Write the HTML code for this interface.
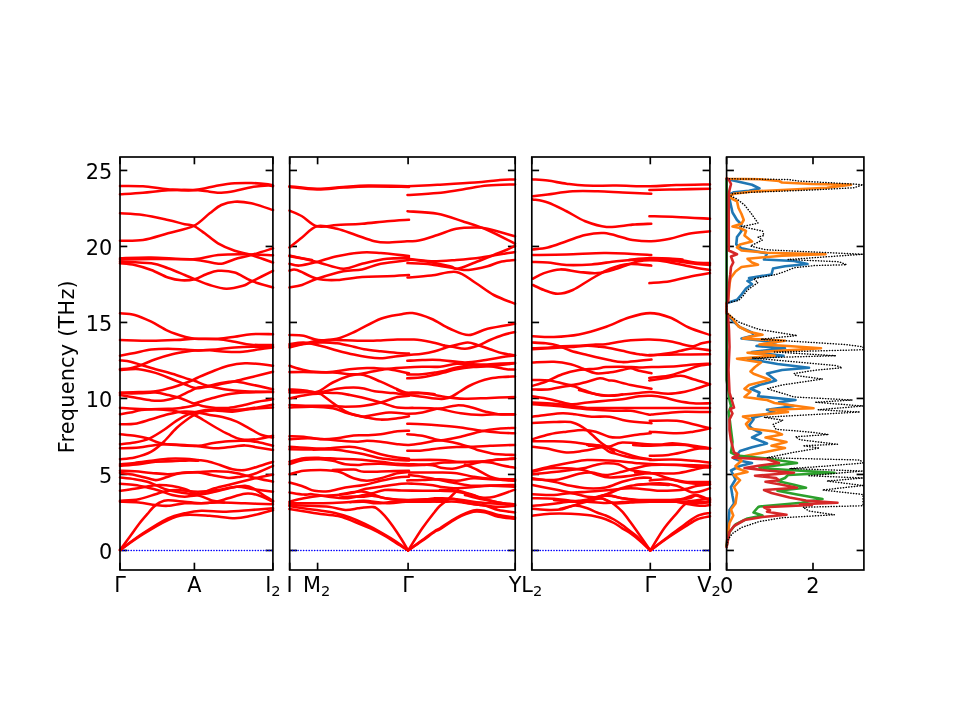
<!DOCTYPE html>
<html><head><meta charset="utf-8"><title>Phonon band structure</title>
<style>html,body{margin:0;padding:0;background:#fff;}svg{display:block;will-change:transform;}</style>
</head><body>
<svg width="960" height="720" viewBox="0 0 960 720">
<rect width="960" height="720" fill="#fff"/>
<g stroke-linecap="butt"><line x1="120.0" y1="550.45" x2="127.3" y2="550.45" stroke="#000" stroke-width="1.67"/><line x1="265.59999999999997" y1="550.45" x2="272.9" y2="550.45" stroke="#000" stroke-width="1.67"/><line x1="120.0" y1="474.45" x2="127.3" y2="474.45" stroke="#000" stroke-width="1.67"/><line x1="265.59999999999997" y1="474.45" x2="272.9" y2="474.45" stroke="#000" stroke-width="1.67"/><line x1="120.0" y1="398.45" x2="127.3" y2="398.45" stroke="#000" stroke-width="1.67"/><line x1="265.59999999999997" y1="398.45" x2="272.9" y2="398.45" stroke="#000" stroke-width="1.67"/><line x1="120.0" y1="322.45" x2="127.3" y2="322.45" stroke="#000" stroke-width="1.67"/><line x1="265.59999999999997" y1="322.45" x2="272.9" y2="322.45" stroke="#000" stroke-width="1.67"/><line x1="120.0" y1="246.45" x2="127.3" y2="246.45" stroke="#000" stroke-width="1.67"/><line x1="265.59999999999997" y1="246.45" x2="272.9" y2="246.45" stroke="#000" stroke-width="1.67"/><line x1="120.0" y1="170.45" x2="127.3" y2="170.45" stroke="#000" stroke-width="1.67"/><line x1="265.59999999999997" y1="170.45" x2="272.9" y2="170.45" stroke="#000" stroke-width="1.67"/><line x1="289.7" y1="550.45" x2="297.0" y2="550.45" stroke="#000" stroke-width="1.67"/><line x1="507.90000000000003" y1="550.45" x2="515.2" y2="550.45" stroke="#000" stroke-width="1.67"/><line x1="289.7" y1="474.45" x2="297.0" y2="474.45" stroke="#000" stroke-width="1.67"/><line x1="507.90000000000003" y1="474.45" x2="515.2" y2="474.45" stroke="#000" stroke-width="1.67"/><line x1="289.7" y1="398.45" x2="297.0" y2="398.45" stroke="#000" stroke-width="1.67"/><line x1="507.90000000000003" y1="398.45" x2="515.2" y2="398.45" stroke="#000" stroke-width="1.67"/><line x1="289.7" y1="322.45" x2="297.0" y2="322.45" stroke="#000" stroke-width="1.67"/><line x1="507.90000000000003" y1="322.45" x2="515.2" y2="322.45" stroke="#000" stroke-width="1.67"/><line x1="289.7" y1="246.45" x2="297.0" y2="246.45" stroke="#000" stroke-width="1.67"/><line x1="507.90000000000003" y1="246.45" x2="515.2" y2="246.45" stroke="#000" stroke-width="1.67"/><line x1="289.7" y1="170.45" x2="297.0" y2="170.45" stroke="#000" stroke-width="1.67"/><line x1="507.90000000000003" y1="170.45" x2="515.2" y2="170.45" stroke="#000" stroke-width="1.67"/><line x1="531.8" y1="550.45" x2="539.0999999999999" y2="550.45" stroke="#000" stroke-width="1.67"/><line x1="702.6" y1="550.45" x2="709.9" y2="550.45" stroke="#000" stroke-width="1.67"/><line x1="531.8" y1="474.45" x2="539.0999999999999" y2="474.45" stroke="#000" stroke-width="1.67"/><line x1="702.6" y1="474.45" x2="709.9" y2="474.45" stroke="#000" stroke-width="1.67"/><line x1="531.8" y1="398.45" x2="539.0999999999999" y2="398.45" stroke="#000" stroke-width="1.67"/><line x1="702.6" y1="398.45" x2="709.9" y2="398.45" stroke="#000" stroke-width="1.67"/><line x1="531.8" y1="322.45" x2="539.0999999999999" y2="322.45" stroke="#000" stroke-width="1.67"/><line x1="702.6" y1="322.45" x2="709.9" y2="322.45" stroke="#000" stroke-width="1.67"/><line x1="531.8" y1="246.45" x2="539.0999999999999" y2="246.45" stroke="#000" stroke-width="1.67"/><line x1="702.6" y1="246.45" x2="709.9" y2="246.45" stroke="#000" stroke-width="1.67"/><line x1="531.8" y1="170.45" x2="539.0999999999999" y2="170.45" stroke="#000" stroke-width="1.67"/><line x1="702.6" y1="170.45" x2="709.9" y2="170.45" stroke="#000" stroke-width="1.67"/><line x1="726.6" y1="550.45" x2="733.9" y2="550.45" stroke="#000" stroke-width="1.67"/><line x1="856.6" y1="550.45" x2="863.9" y2="550.45" stroke="#000" stroke-width="1.67"/><line x1="726.6" y1="474.45" x2="733.9" y2="474.45" stroke="#000" stroke-width="1.67"/><line x1="856.6" y1="474.45" x2="863.9" y2="474.45" stroke="#000" stroke-width="1.67"/><line x1="726.6" y1="398.45" x2="733.9" y2="398.45" stroke="#000" stroke-width="1.67"/><line x1="856.6" y1="398.45" x2="863.9" y2="398.45" stroke="#000" stroke-width="1.67"/><line x1="726.6" y1="322.45" x2="733.9" y2="322.45" stroke="#000" stroke-width="1.67"/><line x1="856.6" y1="322.45" x2="863.9" y2="322.45" stroke="#000" stroke-width="1.67"/><line x1="726.6" y1="246.45" x2="733.9" y2="246.45" stroke="#000" stroke-width="1.67"/><line x1="856.6" y1="246.45" x2="863.9" y2="246.45" stroke="#000" stroke-width="1.67"/><line x1="726.6" y1="170.45" x2="733.9" y2="170.45" stroke="#000" stroke-width="1.67"/><line x1="856.6" y1="170.45" x2="863.9" y2="170.45" stroke="#000" stroke-width="1.67"/><line x1="120.00" y1="570.0" x2="120.00" y2="562.7" stroke="#000" stroke-width="1.67"/><line x1="120.00" y1="157.0" x2="120.00" y2="164.3" stroke="#000" stroke-width="1.67"/><line x1="194.40" y1="570.0" x2="194.40" y2="562.7" stroke="#000" stroke-width="1.67"/><line x1="194.40" y1="157.0" x2="194.40" y2="164.3" stroke="#000" stroke-width="1.67"/><line x1="272.90" y1="570.0" x2="272.90" y2="562.7" stroke="#000" stroke-width="1.67"/><line x1="272.90" y1="157.0" x2="272.90" y2="164.3" stroke="#000" stroke-width="1.67"/><line x1="289.70" y1="570.0" x2="289.70" y2="562.7" stroke="#000" stroke-width="1.67"/><line x1="289.70" y1="157.0" x2="289.70" y2="164.3" stroke="#000" stroke-width="1.67"/><line x1="317.60" y1="570.0" x2="317.60" y2="562.7" stroke="#000" stroke-width="1.67"/><line x1="317.60" y1="157.0" x2="317.60" y2="164.3" stroke="#000" stroke-width="1.67"/><line x1="408.10" y1="570.0" x2="408.10" y2="562.7" stroke="#000" stroke-width="1.67"/><line x1="408.10" y1="157.0" x2="408.10" y2="164.3" stroke="#000" stroke-width="1.67"/><line x1="515.20" y1="570.0" x2="515.20" y2="562.7" stroke="#000" stroke-width="1.67"/><line x1="515.20" y1="157.0" x2="515.20" y2="164.3" stroke="#000" stroke-width="1.67"/><line x1="531.80" y1="570.0" x2="531.80" y2="562.7" stroke="#000" stroke-width="1.67"/><line x1="531.80" y1="157.0" x2="531.80" y2="164.3" stroke="#000" stroke-width="1.67"/><line x1="650.30" y1="570.0" x2="650.30" y2="562.7" stroke="#000" stroke-width="1.67"/><line x1="650.30" y1="157.0" x2="650.30" y2="164.3" stroke="#000" stroke-width="1.67"/><line x1="709.90" y1="570.0" x2="709.90" y2="562.7" stroke="#000" stroke-width="1.67"/><line x1="709.90" y1="157.0" x2="709.90" y2="164.3" stroke="#000" stroke-width="1.67"/><line x1="726.60" y1="570.0" x2="726.60" y2="562.7" stroke="#000" stroke-width="1.67"/><line x1="726.60" y1="157.0" x2="726.60" y2="164.3" stroke="#000" stroke-width="1.67"/><line x1="813.00" y1="570.0" x2="813.00" y2="562.7" stroke="#000" stroke-width="1.67"/><line x1="813.00" y1="157.0" x2="813.00" y2="164.3" stroke="#000" stroke-width="1.67"/></g>
<g fill="none" stroke-linecap="square"><line x1="120.0" y1="550.45" x2="272.9" y2="550.45" stroke="#0000ff" stroke-width="1.4" stroke-dasharray="0.3 2.46" stroke-linecap="round"/><line x1="289.7" y1="550.45" x2="515.2" y2="550.45" stroke="#0000ff" stroke-width="1.4" stroke-dasharray="0.3 2.46" stroke-linecap="round"/><line x1="531.8" y1="550.45" x2="709.9" y2="550.45" stroke="#0000ff" stroke-width="1.4" stroke-dasharray="0.3 2.46" stroke-linecap="round"/></g>
<g fill="none" stroke-linecap="round" stroke-linejoin="round"><path d="M120.00,186.00C123.83,186.05 135.00,185.77 143.00,186.30C151.00,186.83 159.67,188.53 168.00,189.20C176.33,189.87 184.67,190.92 193.00,190.30C201.33,189.68 211.05,186.67 218.00,185.50C224.95,184.33 229.15,183.72 234.70,183.30C240.25,182.88 245.75,182.83 251.30,183.00C256.85,183.17 264.38,183.88 268.00,184.30C271.62,184.72 272.17,185.30 273.00,185.50" stroke="#ff0000" stroke-width="2.55"/><path d="M120.00,194.30C123.83,194.03 135.00,193.37 143.00,192.70C151.00,192.03 159.67,190.75 168.00,190.30C176.33,189.85 186.05,189.77 193.00,190.00C199.95,190.23 204.98,191.25 209.70,191.70C214.42,192.15 217.13,192.82 221.30,192.70C225.47,192.58 229.70,191.92 234.70,191.00C239.70,190.08 245.75,188.12 251.30,187.20C256.85,186.28 264.38,185.65 268.00,185.50C271.62,185.35 272.17,186.17 273.00,186.30" stroke="#ff0000" stroke-width="2.55"/><path d="M120.00,213.30C123.83,213.58 135.00,213.88 143.00,215.00C151.00,216.12 161.05,218.47 168.00,220.00C174.95,221.53 180.40,223.23 184.70,224.20C189.00,225.17 190.47,224.28 193.80,225.80C197.13,227.32 200.67,230.38 204.70,233.30C208.73,236.22 213.00,240.38 218.00,243.30C223.00,246.22 229.15,248.85 234.70,250.80C240.25,252.75 244.92,253.05 251.30,255.00C257.68,256.95 269.38,261.25 273.00,262.50" stroke="#ff0000" stroke-width="2.55"/><path d="M120.00,240.80C123.83,240.67 135.00,241.25 143.00,240.00C151.00,238.75 159.53,235.67 168.00,233.30C176.47,230.93 186.85,229.13 193.80,225.80C200.75,222.47 205.12,216.77 209.70,213.30C214.28,209.83 217.13,206.93 221.30,205.00C225.47,203.07 229.70,201.98 234.70,201.70C239.70,201.42 244.92,201.92 251.30,203.30C257.68,204.68 269.38,208.88 273.00,210.00" stroke="#ff0000" stroke-width="2.55"/><path d="M120.00,258.30C125.17,258.17 138.83,257.35 151.00,257.50C163.17,257.65 181.83,259.62 193.00,259.20C204.17,258.78 209.67,255.83 218.00,255.00C226.33,254.17 233.83,254.15 243.00,254.20C252.17,254.25 268.00,255.12 273.00,255.30" stroke="#ff0000" stroke-width="2.55"/><path d="M120.00,259.70C125.17,259.58 138.83,259.03 151.00,259.00C163.17,258.97 182.38,258.78 193.00,259.50C203.62,260.22 209.70,262.63 214.70,263.30C219.70,263.97 219.67,264.18 223.00,263.50C226.33,262.82 229.98,260.62 234.70,259.20C239.42,257.78 244.92,256.82 251.30,255.00C257.68,253.18 269.38,249.42 273.00,248.30" stroke="#ff0000" stroke-width="2.55"/><path d="M120.00,263.30C122.45,263.58 129.48,263.88 134.70,265.00C139.92,266.12 145.75,267.92 151.30,270.00C156.85,272.08 163.00,275.78 168.00,277.50C173.00,279.22 176.85,280.02 181.30,280.30C185.75,280.58 190.53,280.22 194.70,279.20C198.87,278.18 202.42,275.60 206.30,274.20C210.18,272.80 213.27,271.08 218.00,270.80C222.73,270.52 229.15,270.83 234.70,272.50C240.25,274.17 244.92,278.30 251.30,280.80C257.68,283.30 269.38,286.38 273.00,287.50" stroke="#ff0000" stroke-width="2.55"/><path d="M120.00,261.70C125.22,261.97 143.30,262.20 151.30,263.30C159.30,264.40 162.43,266.35 168.00,268.30C173.57,270.25 180.25,273.18 184.70,275.00C189.15,276.82 190.53,277.53 194.70,279.20C198.87,280.87 204.43,283.42 209.70,285.00C214.97,286.58 220.75,288.57 226.30,288.70C231.85,288.83 238.83,286.97 243.00,285.80C247.17,284.63 246.30,284.20 251.30,281.70C256.30,279.20 269.38,272.62 273.00,270.80" stroke="#ff0000" stroke-width="2.55"/><path d="M120.00,313.30C122.45,313.58 129.48,313.60 134.70,315.00C139.92,316.40 145.75,319.07 151.30,321.70C156.85,324.33 162.43,328.30 168.00,330.80C173.57,333.30 180.25,335.38 184.70,336.70C189.15,338.02 189.15,338.28 194.70,338.70C200.25,339.12 211.33,338.70 218.00,339.20C224.67,339.70 229.15,340.78 234.70,341.70C240.25,342.62 244.92,344.15 251.30,344.70C257.68,345.25 269.38,344.95 273.00,345.00" stroke="#ff0000" stroke-width="2.55"/><path d="M120.00,340.00C125.22,340.13 141.92,340.80 151.30,340.80C160.68,340.80 169.07,340.35 176.30,340.00C183.53,339.65 187.75,338.92 194.70,338.70C201.65,338.48 211.33,339.03 218.00,338.70C224.67,338.37 229.15,337.45 234.70,336.70C240.25,335.95 244.92,334.62 251.30,334.20C257.68,333.78 269.38,334.20 273.00,334.20" stroke="#ff0000" stroke-width="2.55"/><path d="M120.00,355.80C122.45,355.32 129.48,353.93 134.70,352.90C139.92,351.87 145.75,350.29 151.30,349.60C156.85,348.91 162.43,348.75 168.00,348.75C173.57,348.75 179.70,349.33 184.70,349.60C189.70,349.88 193.83,350.28 198.00,350.40C202.17,350.52 204.98,350.08 209.70,350.30C214.42,350.52 220.75,351.47 226.30,351.70C231.85,351.93 237.43,352.12 243.00,351.70C248.57,351.28 254.70,349.90 259.70,349.20C264.70,348.50 270.78,347.78 273.00,347.50" stroke="#ff0000" stroke-width="2.55"/><path d="M120.00,360.40C121.75,360.62 126.95,360.93 130.50,361.70C134.05,362.47 137.13,363.75 141.30,365.00C145.47,366.25 150.35,367.74 155.50,369.20C160.65,370.66 166.65,372.08 172.20,373.75C177.75,375.42 185.00,377.99 188.80,379.20C192.60,380.41 191.88,379.90 195.00,381.00C198.12,382.10 202.63,384.43 207.50,385.80C212.37,387.17 217.95,388.29 224.20,389.20C230.45,390.11 236.87,390.77 245.00,391.25C253.13,391.73 268.33,391.96 273.00,392.10" stroke="#ff0000" stroke-width="2.55"/><path d="M120.00,369.20C121.75,369.05 126.95,369.00 130.50,368.30C134.05,367.60 137.13,366.52 141.30,365.00C145.47,363.48 150.35,361.00 155.50,359.20C160.65,357.40 166.65,355.52 172.20,354.20C177.75,352.88 184.50,351.88 188.80,351.25C193.10,350.62 193.13,350.74 198.00,350.40C202.87,350.06 211.88,349.68 218.00,349.20C224.12,348.72 229.15,347.92 234.70,347.50C240.25,347.08 244.92,346.83 251.30,346.70C257.68,346.57 269.38,346.70 273.00,346.70" stroke="#ff0000" stroke-width="2.55"/><path d="M120.00,370.00C123.13,369.87 132.88,368.72 138.80,369.20C144.72,369.68 149.93,371.23 155.50,372.90C161.07,374.57 167.33,377.32 172.20,379.20C177.07,381.08 181.23,382.82 184.70,384.20C188.17,385.58 190.78,386.82 193.00,387.50C195.22,388.18 195.58,388.51 198.00,388.30C200.42,388.09 203.83,387.08 207.50,386.25C211.17,385.42 215.42,384.09 220.00,383.30C224.58,382.51 229.45,381.22 235.00,381.50C240.55,381.78 246.97,383.72 253.30,385.00C259.63,386.28 269.72,388.50 273.00,389.20" stroke="#ff0000" stroke-width="2.55"/><path d="M120.00,392.50C123.13,392.43 132.88,392.31 138.80,392.10C144.72,391.89 149.93,392.02 155.50,391.25C161.07,390.48 167.33,388.82 172.20,387.50C177.07,386.18 181.23,384.55 184.70,383.30C188.17,382.05 190.78,380.97 193.00,380.00C195.22,379.03 194.88,378.88 198.00,377.50C201.12,376.12 206.65,373.65 211.70,371.70C216.75,369.75 222.75,367.20 228.30,365.80C233.85,364.40 239.43,363.57 245.00,363.30C250.57,363.03 257.03,363.78 261.70,364.20C266.37,364.62 271.12,365.53 273.00,365.80" stroke="#ff0000" stroke-width="2.55"/><path d="M120.00,393.30C123.13,393.30 132.88,393.43 138.80,393.30C144.72,393.17 150.63,392.22 155.50,392.50C160.37,392.78 163.83,394.03 168.00,395.00C172.17,395.97 176.33,396.92 180.50,398.30C184.67,399.68 190.08,402.25 193.00,403.30C195.92,404.35 196.28,404.11 198.00,404.60C199.72,405.09 200.33,405.70 203.30,406.25C206.27,406.80 211.63,407.62 215.80,407.90C219.97,408.17 224.13,408.25 228.30,407.90C232.47,407.55 235.93,406.83 240.80,405.80C245.67,404.77 252.92,402.67 257.50,401.70C262.08,400.73 265.72,400.45 268.30,400.00C270.88,399.55 272.22,399.17 273.00,399.00" stroke="#ff0000" stroke-width="2.55"/><path d="M120.00,395.00C122.45,395.42 129.48,396.60 134.70,397.50C139.92,398.40 146.45,399.92 151.30,400.40C156.15,400.88 159.63,400.88 163.80,400.40C167.97,399.92 172.13,398.95 176.30,397.50C180.47,396.05 185.18,393.37 188.80,391.70C192.42,390.03 194.88,388.33 198.00,387.50C201.12,386.67 203.83,387.25 207.50,386.70C211.17,386.15 215.42,385.11 220.00,384.20C224.58,383.29 229.45,382.50 235.00,381.25C240.55,380.00 246.97,378.29 253.30,376.70C259.63,375.11 269.72,372.53 273.00,371.70" stroke="#ff0000" stroke-width="2.55"/><path d="M195.00,403.30C197.78,402.47 206.15,399.82 211.70,398.30C217.25,396.78 222.75,395.17 228.30,394.20C233.85,393.23 237.55,392.92 245.00,392.50C252.45,392.08 268.33,391.83 273.00,391.70" stroke="#ff0000" stroke-width="2.55"/><path d="M120.00,407.90C122.45,408.04 129.48,408.53 134.70,408.75C139.92,408.97 145.75,409.20 151.30,409.20C156.85,409.20 163.13,408.97 168.00,408.75C172.87,408.53 176.33,408.39 180.50,407.90C184.67,407.41 190.08,406.35 193.00,405.80C195.92,405.25 197.17,404.80 198.00,404.60" stroke="#ff0000" stroke-width="2.55"/><path d="M120.00,414.20C121.75,413.92 126.95,413.20 130.50,412.50C134.05,411.80 137.13,410.55 141.30,410.00C145.47,409.45 150.35,409.12 155.50,409.20C160.65,409.28 167.70,409.90 172.20,410.50C176.70,411.10 178.83,412.05 182.50,412.80C186.17,413.55 190.73,413.80 194.20,415.00C197.67,416.20 199.70,417.92 203.30,420.00C206.90,422.08 211.63,425.13 215.80,427.50C219.97,429.87 224.13,432.25 228.30,434.20C232.47,436.15 235.93,438.37 240.80,439.20C245.67,440.03 252.13,439.77 257.50,439.20C262.87,438.63 270.42,436.37 273.00,435.80" stroke="#ff0000" stroke-width="2.55"/><path d="M120.00,424.20C122.45,424.12 129.48,424.58 134.70,423.75C139.92,422.92 145.75,420.79 151.30,419.20C156.85,417.61 162.43,415.48 168.00,414.20C173.57,412.92 179.70,411.78 184.70,411.50C189.70,411.22 194.20,411.98 198.00,412.50C201.80,413.02 203.13,413.77 207.50,414.60C211.87,415.43 219.33,416.32 224.20,417.50C229.07,418.68 232.53,419.90 236.70,421.70C240.87,423.50 245.03,426.08 249.20,428.30C253.37,430.52 257.73,433.47 261.70,435.00C265.67,436.53 271.12,437.08 273.00,437.50" stroke="#ff0000" stroke-width="2.55"/><path d="M120.00,434.20C122.45,434.47 130.17,435.12 134.70,435.80C139.23,436.48 143.03,437.12 147.20,438.30C151.37,439.48 154.85,441.78 159.70,442.90C164.55,444.02 169.92,444.52 176.30,445.00C182.68,445.48 192.10,446.08 198.00,445.80C203.90,445.52 206.65,444.06 211.70,443.30C216.75,442.54 222.75,441.67 228.30,441.25C233.85,440.83 240.13,440.66 245.00,440.80C249.87,440.94 252.83,441.27 257.50,442.10C262.17,442.93 270.42,445.18 273.00,445.80" stroke="#ff0000" stroke-width="2.55"/><path d="M120.00,444.20C122.45,443.92 129.75,443.48 134.70,442.50C139.65,441.52 144.85,440.38 149.70,438.30C154.55,436.22 159.37,432.92 163.80,430.00C168.23,427.08 172.13,423.43 176.30,420.80C180.47,418.17 185.18,415.75 188.80,414.20C192.42,412.65 194.18,412.27 198.00,411.50C201.82,410.73 206.65,409.85 211.70,409.60C216.75,409.35 222.75,410.07 228.30,410.00C233.85,409.93 239.43,409.75 245.00,409.20C250.57,408.65 257.03,407.47 261.70,406.70C266.37,405.93 271.12,404.95 273.00,404.60" stroke="#ff0000" stroke-width="2.55"/><path d="M120.00,448.30C123.13,448.17 132.88,448.05 138.80,447.50C144.72,446.95 150.63,445.55 155.50,445.00C160.37,444.45 163.13,444.20 168.00,444.20C172.87,444.20 179.70,444.66 184.70,445.00C189.70,445.34 192.82,445.70 198.00,446.25C203.18,446.80 210.05,448.23 215.80,448.30C221.55,448.38 227.63,447.18 232.50,446.70C237.37,446.22 240.83,445.27 245.00,445.40C249.17,445.53 252.83,446.73 257.50,447.50C262.17,448.27 270.42,449.58 273.00,450.00" stroke="#ff0000" stroke-width="2.55"/><path d="M120.00,459.20C122.45,458.92 129.48,458.75 134.70,457.50C139.92,456.25 146.45,454.33 151.30,451.70C156.15,449.07 159.63,445.60 163.80,441.70C167.97,437.80 172.13,432.20 176.30,428.30C180.47,424.40 185.52,420.68 188.80,418.30C192.08,415.92 193.47,415.13 196.00,414.00C198.53,412.87 200.83,412.08 204.00,411.50C207.17,410.92 210.25,410.47 215.00,410.50C219.75,410.53 226.80,411.92 232.50,411.70C238.20,411.48 242.45,409.90 249.20,409.20C255.95,408.50 269.03,407.78 273.00,407.50" stroke="#ff0000" stroke-width="2.55"/><path d="M120.00,464.20C122.45,463.98 129.48,463.47 134.70,462.90C139.92,462.33 145.75,461.49 151.30,460.80C156.85,460.11 162.43,459.09 168.00,458.75C173.57,458.41 179.70,458.54 184.70,458.75C189.70,458.96 194.20,459.58 198.00,460.00C201.80,460.42 203.83,460.42 207.50,461.25C211.17,462.08 215.83,463.68 220.00,465.00C224.17,466.32 228.33,468.37 232.50,469.20C236.67,470.03 240.83,470.42 245.00,470.00C249.17,469.58 252.83,468.08 257.50,466.70C262.17,465.32 270.42,462.53 273.00,461.70" stroke="#ff0000" stroke-width="2.55"/><path d="M120.00,465.80C123.13,465.53 132.88,464.88 138.80,464.20C144.72,463.52 149.93,462.19 155.50,461.70C161.07,461.21 166.65,461.47 172.20,461.25C177.75,461.03 184.50,460.47 188.80,460.40C193.10,460.32 196.47,460.73 198.00,460.80" stroke="#ff0000" stroke-width="2.55"/><path d="M120.00,470.80C122.45,470.88 129.48,470.90 134.70,471.25C139.92,471.60 145.75,472.41 151.30,472.90C156.85,473.39 162.43,474.27 168.00,474.20C173.57,474.13 179.70,472.85 184.70,472.50C189.70,472.15 193.50,472.31 198.00,472.10C202.50,471.89 206.65,471.32 211.70,471.25C216.75,471.18 223.45,471.21 228.30,471.70C233.15,472.19 236.63,473.23 240.80,474.20C244.97,475.17 247.93,476.25 253.30,477.50C258.67,478.75 269.72,481.00 273.00,481.70" stroke="#ff0000" stroke-width="2.55"/><path d="M120.00,472.90C122.45,473.25 129.48,473.95 134.70,475.00C139.92,476.05 147.55,478.37 151.30,479.20C155.05,480.03 154.42,480.42 157.20,480.00C159.98,479.58 164.12,477.82 168.00,476.70C171.88,475.58 175.50,474.00 180.50,473.30C185.50,472.60 192.80,472.22 198.00,472.50C203.20,472.78 206.65,474.10 211.70,475.00C216.75,475.90 223.45,477.62 228.30,477.90C233.15,478.18 236.63,477.32 240.80,476.70C244.97,476.08 247.93,476.02 253.30,474.20C258.67,472.38 269.72,467.20 273.00,465.80" stroke="#ff0000" stroke-width="2.55"/><path d="M120.00,477.50C122.45,477.78 130.17,478.50 134.70,479.20C139.23,479.90 143.73,480.73 147.20,481.70C150.67,482.67 152.03,483.62 155.50,485.00C158.97,486.38 163.83,488.75 168.00,490.00C172.17,491.25 175.50,491.80 180.50,492.50C185.50,493.20 192.80,494.75 198.00,494.20C203.20,493.65 206.65,490.73 211.70,489.20C216.75,487.67 222.75,486.40 228.30,485.00C233.85,483.60 239.43,482.18 245.00,480.80C250.57,479.42 257.03,477.73 261.70,476.70C266.37,475.67 271.12,474.95 273.00,474.60" stroke="#ff0000" stroke-width="2.55"/><path d="M120.00,483.75C122.45,483.96 130.17,484.38 134.70,485.00C139.23,485.62 143.03,486.53 147.20,487.50C151.37,488.47 155.53,489.55 159.70,490.80C163.87,492.05 168.03,494.02 172.20,495.00C176.37,495.98 180.40,496.62 184.70,496.70C189.00,496.78 193.50,494.88 198.00,495.50C202.50,496.12 207.33,499.23 211.70,500.40C216.07,501.57 222.12,502.15 224.20,502.50" stroke="#ff0000" stroke-width="2.55"/><path d="M120.00,490.80C122.45,490.46 129.48,489.58 134.70,488.75C139.92,487.92 147.13,486.43 151.30,485.80C155.47,485.18 156.22,484.97 159.70,485.00C163.18,485.03 168.03,485.33 172.20,486.00C176.37,486.67 180.40,487.63 184.70,489.00C189.00,490.37 193.50,493.62 198.00,494.20C202.50,494.78 205.95,493.62 211.70,492.50C217.45,491.38 226.95,488.62 232.50,487.50C238.05,486.38 241.53,485.67 245.00,485.80C248.47,485.93 249.83,486.48 253.30,488.30C256.77,490.12 262.52,494.62 265.80,496.70C269.08,498.78 271.80,500.12 273.00,500.80" stroke="#ff0000" stroke-width="2.55"/><path d="M120.00,500.80C123.13,500.53 132.88,500.30 138.80,499.20C144.72,498.10 151.33,495.45 155.50,494.20C159.67,492.95 160.33,492.40 163.80,491.70C167.27,491.00 170.60,490.00 176.30,490.00C182.00,490.00 191.05,491.70 198.00,491.70C204.95,491.70 211.55,490.83 218.00,490.00C224.45,489.17 230.82,486.83 236.70,486.70C242.58,486.57 247.25,488.37 253.30,489.20C259.35,490.03 269.72,491.28 273.00,491.70" stroke="#ff0000" stroke-width="2.55"/><path d="M120.00,501.70C123.13,501.83 132.88,501.95 138.80,502.50C144.72,503.05 150.63,504.45 155.50,505.00C160.37,505.55 163.13,506.08 168.00,505.80C172.87,505.52 179.70,503.72 184.70,503.30C189.70,502.88 192.12,503.43 198.00,503.30C203.88,503.17 212.17,502.50 220.00,502.50C227.83,502.50 236.17,503.02 245.00,503.30C253.83,503.58 268.33,504.05 273.00,504.20" stroke="#ff0000" stroke-width="2.55"/><path d="M120.00,550.00C121.75,547.63 127.37,540.10 130.50,535.80C133.63,531.50 136.02,527.80 138.80,524.20C141.58,520.60 144.83,516.98 147.20,514.20C149.57,511.42 150.92,509.45 153.00,507.50C155.08,505.55 157.20,503.70 159.70,502.50C162.20,501.30 163.83,500.43 168.00,500.30C172.17,500.17 179.15,501.20 184.70,501.70C190.25,502.20 196.12,503.30 201.30,503.30C206.48,503.30 211.30,502.53 215.80,501.70C220.30,500.87 223.43,499.62 228.30,498.30C233.17,496.98 240.13,494.30 245.00,493.75C249.87,493.20 252.83,493.68 257.50,495.00C262.17,496.32 270.42,500.58 273.00,501.70" stroke="#ff0000" stroke-width="2.55"/><path d="M120.00,550.00C123.83,547.22 135.00,538.58 143.00,533.30C151.00,528.02 161.05,521.63 168.00,518.30C174.95,514.97 179.15,514.55 184.70,513.30C190.25,512.05 194.37,511.07 201.30,510.80C208.23,510.53 217.97,511.83 226.30,511.70C234.63,511.57 243.52,510.57 251.30,510.00C259.08,509.43 269.38,508.58 273.00,508.30" stroke="#ff0000" stroke-width="2.55"/><path d="M120.00,550.00C123.83,547.37 135.00,539.20 143.00,534.20C151.00,529.20 161.05,523.20 168.00,520.00C174.95,516.80 177.75,515.70 184.70,515.00C191.65,514.30 201.37,515.25 209.70,515.80C218.03,516.35 227.77,518.30 234.70,518.30C241.63,518.30 244.92,517.18 251.30,515.80C257.68,514.42 269.38,510.97 273.00,510.00" stroke="#ff0000" stroke-width="2.55"/><path d="M289.50,186.25C294.08,186.67 308.04,188.64 317.00,188.75C325.96,188.86 334.71,187.43 343.25,186.90C351.79,186.38 357.29,185.71 368.25,185.60C379.21,185.49 402.21,186.14 409.00,186.25" stroke="#ff0000" stroke-width="2.55"/><path d="M289.50,186.90C294.08,187.32 308.04,189.28 317.00,189.40C325.96,189.52 334.71,188.07 343.25,187.60C351.79,187.13 357.29,186.72 368.25,186.60C379.21,186.48 402.21,186.85 409.00,186.90" stroke="#ff0000" stroke-width="2.55"/><path d="M407.50,186.25C412.50,186.00 426.25,185.38 437.50,184.75C448.75,184.12 464.58,183.29 475.00,182.50C485.42,181.71 493.33,180.52 500.00,180.00C506.67,179.48 512.50,179.50 515.00,179.40" stroke="#ff0000" stroke-width="2.55"/><path d="M407.50,195.00C412.50,194.68 428.33,194.03 437.50,193.10C446.67,192.17 454.17,190.65 462.50,189.40C470.83,188.15 478.75,186.43 487.50,185.60C496.25,184.77 510.42,184.60 515.00,184.40" stroke="#ff0000" stroke-width="2.55"/><path d="M289.50,210.60C291.58,211.54 297.42,213.64 302.00,216.25C306.58,218.86 311.17,224.79 317.00,226.25C322.83,227.71 329.50,225.42 337.00,225.00C344.50,224.58 353.67,224.38 362.00,223.75C370.33,223.12 379.17,221.91 387.00,221.25C394.83,220.59 405.33,220.04 409.00,219.80" stroke="#ff0000" stroke-width="2.55"/><path d="M289.50,247.50C291.58,245.83 297.42,241.04 302.00,237.50C306.58,233.96 311.17,227.71 317.00,226.25C322.83,224.79 330.54,227.29 337.00,228.75C343.46,230.21 349.50,232.92 355.75,235.00C362.00,237.08 369.29,240.00 374.50,241.25C379.71,242.50 381.58,242.50 387.00,242.50C392.42,242.50 401.71,241.57 407.00,241.25C412.29,240.93 413.67,241.64 418.75,240.60C423.83,239.56 431.25,236.97 437.50,235.00C443.75,233.03 450.00,230.00 456.25,228.75C462.50,227.50 469.79,227.50 475.00,227.50C480.21,227.50 480.83,227.29 487.50,228.75C494.17,230.21 510.42,235.00 515.00,236.25" stroke="#ff0000" stroke-width="2.55"/><path d="M407.50,211.25C412.50,211.67 428.33,212.08 437.50,213.75C446.67,215.42 454.17,218.54 462.50,221.25C470.83,223.96 478.75,226.25 487.50,230.00C496.25,233.75 510.42,241.46 515.00,243.75" stroke="#ff0000" stroke-width="2.55"/><path d="M289.50,256.25C293.25,256.88 308.25,259.38 312.00,260.00" stroke="#ff0000" stroke-width="2.55"/><path d="M289.50,255.60C294.08,256.65 308.04,259.71 317.00,261.90C325.96,264.09 335.75,268.44 343.25,268.75C350.75,269.06 354.71,265.42 362.00,263.75C369.29,262.08 379.17,259.69 387.00,258.75C394.83,257.81 405.33,258.21 409.00,258.10" stroke="#ff0000" stroke-width="2.55"/><path d="M289.50,263.75C291.17,264.06 294.92,265.91 299.50,265.60C304.08,265.29 310.75,263.46 317.00,261.90C323.25,260.34 329.50,257.82 337.00,256.25C344.50,254.68 354.71,253.03 362.00,252.50C369.29,251.97 372.92,252.52 380.75,253.10C388.58,253.68 404.29,255.52 409.00,256.00" stroke="#ff0000" stroke-width="2.55"/><path d="M289.50,270.60C290.75,270.50 292.42,268.64 297.00,270.00C301.58,271.36 310.33,277.08 317.00,278.75C323.67,280.42 329.50,280.31 337.00,280.00C344.50,279.69 353.67,277.52 362.00,276.90C370.33,276.27 379.17,276.57 387.00,276.25C394.83,275.93 405.33,275.21 409.00,275.00" stroke="#ff0000" stroke-width="2.55"/><path d="M289.50,287.50C291.58,287.08 297.42,286.46 302.00,285.00C306.58,283.54 310.12,281.04 317.00,278.75C323.88,276.46 335.75,272.81 343.25,271.25C350.75,269.69 355.75,270.65 362.00,269.40C368.25,268.15 372.92,265.32 380.75,263.75C388.58,262.18 404.29,260.62 409.00,260.00" stroke="#ff0000" stroke-width="2.55"/><path d="M407.50,258.75C411.46,259.17 423.12,261.04 431.25,261.25C439.38,261.46 447.92,260.62 456.25,260.00C464.58,259.38 471.46,258.85 481.25,257.50C491.04,256.15 509.38,252.83 515.00,251.90" stroke="#ff0000" stroke-width="2.55"/><path d="M407.50,259.40C410.42,259.71 417.92,260.11 425.00,261.25C432.08,262.39 444.58,265.00 450.00,266.25C455.42,267.50 453.33,269.38 457.50,268.75C461.67,268.12 468.96,264.79 475.00,262.50C481.04,260.21 488.54,257.08 493.75,255.00C498.96,252.92 502.71,251.50 506.25,250.00C509.79,248.50 513.54,246.67 515.00,246.00" stroke="#ff0000" stroke-width="2.55"/><path d="M407.50,263.10C411.46,263.32 423.12,263.46 431.25,264.40C439.38,265.34 450.00,267.82 456.25,268.75C462.50,269.68 463.54,270.42 468.75,270.00C473.96,269.58 482.29,267.60 487.50,266.25C492.71,264.90 495.42,262.94 500.00,261.90C504.58,260.86 512.50,260.32 515.00,260.00" stroke="#ff0000" stroke-width="2.55"/><path d="M407.50,277.50C411.46,277.18 423.12,276.53 431.25,275.60C439.38,274.67 448.96,270.75 456.25,271.90C463.54,273.05 468.75,278.65 475.00,282.50C481.25,286.35 487.08,291.46 493.75,295.00C500.42,298.54 511.46,302.29 515.00,303.75" stroke="#ff0000" stroke-width="2.55"/><path d="M289.50,335.00C291.87,335.13 298.91,334.97 303.70,335.80C308.49,336.63 312.70,339.51 318.25,340.00C323.80,340.49 330.75,340.21 337.00,338.75C343.25,337.29 348.46,334.58 355.75,331.25C363.04,327.92 373.38,321.56 380.75,318.75C388.12,315.94 394.71,315.34 400.00,314.40C405.29,313.46 407.29,312.38 412.50,313.10C417.71,313.83 425.00,316.14 431.25,318.75C437.50,321.36 443.75,326.04 450.00,328.75C456.25,331.46 462.50,335.00 468.75,335.00C475.00,335.00 479.79,330.62 487.50,328.75C495.21,326.88 510.42,324.58 515.00,323.75" stroke="#ff0000" stroke-width="2.55"/><path d="M289.50,347.50C293.25,346.53 305.47,342.95 312.00,341.70C318.53,340.45 319.53,340.15 328.70,340.00C337.87,339.85 358.33,340.73 367.00,340.80C375.67,340.87 375.65,340.60 380.70,340.40C385.75,340.20 391.75,339.73 397.30,339.60C402.85,339.47 408.43,339.18 414.00,339.60C419.57,340.02 425.70,341.13 430.70,342.10C435.70,343.07 441.78,344.85 444.00,345.40" stroke="#ff0000" stroke-width="2.55"/><path d="M289.50,344.20C291.87,343.92 298.57,342.23 303.70,342.50C308.83,342.77 314.75,344.48 320.30,345.80C325.85,347.12 331.43,348.93 337.00,350.40C342.57,351.87 348.70,353.48 353.70,354.60C358.70,355.72 362.50,356.48 367.00,357.10C371.50,357.72 375.65,358.44 380.70,358.30C385.75,358.16 392.58,356.80 397.30,356.25C402.02,355.70 404.83,355.42 409.00,355.00C413.17,354.58 418.00,354.38 422.30,353.75C426.60,353.12 431.18,352.16 434.80,351.25C438.42,350.34 441.05,349.21 444.00,348.30C446.95,347.39 448.58,346.77 452.50,345.80C456.42,344.83 463.33,342.63 467.50,342.50C471.67,342.37 473.75,343.88 477.50,345.00C481.25,346.12 485.83,347.82 490.00,349.20C494.17,350.58 498.33,352.27 502.50,353.30C506.67,354.33 512.92,355.05 515.00,355.40" stroke="#ff0000" stroke-width="2.55"/><path d="M289.50,345.80C294.63,345.25 312.38,342.92 320.30,342.50C328.22,342.08 331.43,342.60 337.00,343.30C342.57,344.00 349.20,345.72 353.70,346.70C358.20,347.68 359.50,348.44 364.00,349.20C368.50,349.96 375.15,350.63 380.70,351.25C386.25,351.87 392.58,352.52 397.30,352.90C402.02,353.27 407.05,353.40 409.00,353.50" stroke="#ff0000" stroke-width="2.55"/><path d="M407.30,360.80C409.80,360.67 416.85,360.13 422.30,360.00C427.75,359.87 432.88,359.58 440.00,360.00C447.12,360.42 457.37,362.50 465.00,362.50C472.63,362.50 479.55,360.90 485.80,360.00C492.05,359.10 497.63,357.87 502.50,357.10C507.37,356.33 512.92,355.68 515.00,355.40" stroke="#ff0000" stroke-width="2.55"/><path d="M444.00,345.40C445.42,345.62 449.00,346.14 452.50,346.70C456.00,347.26 460.83,348.90 465.00,348.75C469.17,348.60 473.33,347.26 477.50,345.80C481.67,344.34 485.75,341.80 490.00,340.00C494.25,338.20 498.83,336.33 503.00,335.00C507.17,333.67 513.00,332.50 515.00,332.00" stroke="#ff0000" stroke-width="2.55"/><path d="M289.50,365.80C291.87,366.50 299.25,368.95 303.70,370.00C308.15,371.05 311.35,371.82 316.20,372.10C321.05,372.38 327.25,372.18 332.80,371.70C338.35,371.22 343.80,369.82 349.50,369.20C355.20,368.58 362.50,368.15 367.00,368.00C371.50,367.85 372.83,368.10 376.50,368.30C380.17,368.50 383.58,368.37 389.00,369.20C394.42,370.03 405.67,372.62 409.00,373.30" stroke="#ff0000" stroke-width="2.55"/><path d="M289.50,372.10C293.25,372.10 304.78,372.03 312.00,372.10C319.22,372.17 326.55,372.15 332.80,372.50C339.05,372.85 344.30,373.78 349.50,374.20C354.70,374.62 358.80,373.75 364.00,375.00C369.20,376.25 375.15,379.33 380.70,381.70C386.25,384.07 393.13,387.40 397.30,389.20C401.47,391.00 402.22,391.95 405.70,392.50C409.18,393.05 413.35,392.22 418.20,392.50C423.05,392.78 432.03,393.92 434.80,394.20" stroke="#ff0000" stroke-width="2.55"/><path d="M289.50,392.50C292.08,392.47 300.21,392.47 305.00,392.30C309.79,392.13 313.62,393.13 318.25,391.50C322.88,389.87 327.59,385.12 332.80,382.50C338.01,379.88 344.30,377.33 349.50,375.80C354.70,374.27 358.12,374.40 364.00,373.30C369.88,372.20 377.85,370.17 384.80,369.20C391.75,368.23 399.45,367.92 405.70,367.50C411.95,367.08 416.58,366.83 422.30,366.70C428.02,366.57 434.27,367.19 440.00,366.70C445.73,366.21 451.15,364.17 456.70,363.75C462.25,363.33 467.75,363.78 473.30,364.20C478.85,364.62 484.43,365.42 490.00,366.25C495.57,367.08 502.53,368.64 506.70,369.20C510.87,369.76 513.62,369.53 515.00,369.60" stroke="#ff0000" stroke-width="2.55"/><path d="M407.30,374.40C409.80,374.37 417.72,374.52 422.30,374.20C426.88,373.88 431.18,373.03 434.80,372.50C438.42,371.97 440.35,371.83 444.00,371.00C447.65,370.17 451.82,368.50 456.70,367.50C461.58,366.50 467.75,365.55 473.30,365.00C478.85,364.45 483.05,364.55 490.00,364.20C496.95,363.85 510.83,363.12 515.00,362.90" stroke="#ff0000" stroke-width="2.55"/><path d="M407.30,378.30C409.80,378.13 417.72,377.88 422.30,377.30C426.88,376.72 431.18,375.60 434.80,374.80C438.42,374.00 440.35,373.43 444.00,372.50C447.65,371.57 451.82,370.10 456.70,369.20C461.58,368.30 467.75,367.59 473.30,367.10C478.85,366.61 483.05,366.88 490.00,366.25C496.95,365.62 510.83,363.79 515.00,363.30" stroke="#ff0000" stroke-width="2.55"/><path d="M289.50,389.40C292.08,389.58 300.21,389.98 305.00,390.50C309.79,391.02 312.92,392.79 318.25,392.50C323.58,392.21 331.17,389.58 337.00,388.75C342.83,387.92 348.75,387.54 353.25,387.50C357.75,387.46 360.46,387.88 364.00,388.50C367.54,389.12 369.62,390.48 374.50,391.25C379.38,392.02 387.50,392.48 393.25,393.10C399.00,393.73 404.16,394.40 409.00,395.00C413.84,395.60 418.00,396.12 422.30,396.70C426.60,397.28 431.18,398.15 434.80,398.50C438.42,398.85 441.13,399.13 444.00,398.80C446.87,398.47 449.33,397.72 452.00,396.50C454.67,395.28 457.17,393.25 460.00,391.50C462.83,389.75 465.83,387.65 469.00,386.00C472.17,384.35 475.50,382.85 479.00,381.60C482.50,380.35 486.08,379.27 490.00,378.50C493.92,377.73 498.33,377.33 502.50,377.00C506.67,376.67 512.92,376.58 515.00,376.50" stroke="#ff0000" stroke-width="2.55"/><path d="M289.50,390.60C292.08,390.70 300.21,390.88 305.00,391.20C309.79,391.52 312.92,392.18 318.25,392.50C323.58,392.82 331.71,392.68 337.00,393.10C342.29,393.52 345.83,394.27 350.00,395.00C354.17,395.73 356.88,396.25 362.00,397.50C367.12,398.75 374.87,400.83 380.75,402.50C386.63,404.17 391.76,406.60 397.30,407.50C402.84,408.40 408.43,407.77 414.00,407.90C419.57,408.03 426.37,408.20 430.70,408.30C435.03,408.40 435.67,408.98 440.00,408.50C444.33,408.02 451.83,405.70 456.70,405.40C461.57,405.10 464.35,405.65 469.20,406.70C474.05,407.75 480.95,410.45 485.80,411.70C490.65,412.95 493.43,413.78 498.30,414.20C503.17,414.62 512.22,414.20 515.00,414.20" stroke="#ff0000" stroke-width="2.55"/><path d="M289.50,398.30C291.87,397.82 298.83,396.16 303.70,395.40C308.57,394.64 315.23,393.53 318.70,393.75C322.17,393.97 321.45,394.69 324.50,396.70C327.55,398.71 332.83,403.03 337.00,405.80C341.17,408.57 344.50,411.35 349.50,413.30C354.50,415.25 364.08,416.80 367.00,417.50" stroke="#ff0000" stroke-width="2.55"/><path d="M289.50,405.00C293.25,405.13 305.47,405.67 312.00,405.80C318.53,405.93 323.15,405.65 328.70,405.80C334.25,405.95 339.42,406.70 345.30,406.70C351.18,406.70 358.10,406.50 364.00,405.80C369.90,405.10 375.15,403.95 380.70,402.50C386.25,401.05 392.58,398.22 397.30,397.10C402.02,395.98 407.05,396.02 409.00,395.80" stroke="#ff0000" stroke-width="2.55"/><path d="M289.50,407.50C293.25,407.37 304.78,406.57 312.00,406.70C319.22,406.83 327.25,407.33 332.80,408.30C338.35,409.27 341.13,411.25 345.30,412.50C349.47,413.75 354.18,414.97 357.80,415.80C361.42,416.63 363.18,416.87 367.00,417.50C370.82,418.13 375.65,419.47 380.70,419.60C385.75,419.73 392.58,418.86 397.30,418.30C402.02,417.74 407.05,416.59 409.00,416.25" stroke="#ff0000" stroke-width="2.55"/><path d="M397.30,390.00C398.70,390.55 401.53,392.75 405.70,393.30C409.87,393.85 417.45,393.02 422.30,393.30C427.15,393.58 431.18,394.43 434.80,395.00C438.42,395.57 441.05,396.22 444.00,396.70C446.95,397.18 449.00,397.56 452.50,397.90C456.00,398.24 458.75,398.75 465.00,398.75C471.25,398.75 481.67,398.17 490.00,397.90C498.33,397.62 510.83,397.23 515.00,397.10" stroke="#ff0000" stroke-width="2.55"/><path d="M364.00,416.70C368.17,416.00 381.50,412.99 389.00,412.50C396.50,412.01 403.45,413.75 409.00,413.75C414.55,413.75 418.00,413.26 422.30,412.50C426.60,411.74 431.85,409.78 434.80,409.20C437.75,408.62 435.67,408.32 440.00,409.00C444.33,409.68 453.85,412.30 460.80,413.30C467.75,414.30 475.45,414.85 481.70,415.00C487.95,415.15 492.75,414.27 498.30,414.20C503.85,414.13 512.22,414.53 515.00,414.60" stroke="#ff0000" stroke-width="2.55"/><path d="M407.30,423.75C409.80,423.82 416.85,423.93 422.30,424.20C427.75,424.47 433.58,424.85 440.00,425.40C446.42,425.95 453.85,426.60 460.80,427.50C467.75,428.40 475.45,429.97 481.70,430.80C487.95,431.63 492.75,432.08 498.30,432.50C503.85,432.92 512.22,433.17 515.00,433.30" stroke="#ff0000" stroke-width="2.55"/><path d="M289.50,436.25C291.87,436.32 298.57,436.21 303.70,436.70C308.83,437.19 314.75,438.93 320.30,439.20C325.85,439.47 331.43,438.93 337.00,438.30C342.57,437.67 348.70,435.92 353.70,435.40C358.70,434.88 362.50,435.40 367.00,435.20C371.50,435.00 375.65,434.86 380.70,434.20C385.75,433.54 392.58,431.82 397.30,431.25C402.02,430.68 407.05,430.88 409.00,430.80" stroke="#ff0000" stroke-width="2.55"/><path d="M407.30,434.20C409.80,434.47 417.72,434.97 422.30,435.80C426.88,436.63 431.18,438.37 434.80,439.20C438.42,440.03 440.35,440.12 444.00,440.80C447.65,441.48 451.82,442.05 456.70,443.30C461.58,444.55 469.83,447.18 473.30,448.30C476.77,449.42 474.72,449.22 477.50,450.00C480.28,450.78 486.53,452.30 490.00,453.00C493.47,453.70 494.13,453.87 498.30,454.20C502.47,454.53 512.22,454.87 515.00,455.00" stroke="#ff0000" stroke-width="2.55"/><path d="M289.50,439.20C292.55,439.05 301.97,438.30 307.80,438.30C313.63,438.30 318.93,438.78 324.50,439.20C330.07,439.62 335.65,440.38 341.20,440.80C346.75,441.22 353.50,441.70 357.80,441.70C362.10,441.70 363.18,440.80 367.00,440.80C370.82,440.80 375.65,441.13 380.70,441.70C385.75,442.27 392.58,443.65 397.30,444.20C402.02,444.75 404.83,445.15 409.00,445.00C413.17,444.85 418.00,444.00 422.30,443.30C426.60,442.60 431.18,441.35 434.80,440.80C438.42,440.25 439.67,440.68 444.00,440.00C448.33,439.32 454.52,438.16 460.80,436.70C467.08,435.24 475.45,432.57 481.70,431.25C487.95,429.93 492.75,429.31 498.30,428.75C503.85,428.19 512.22,428.04 515.00,427.90" stroke="#ff0000" stroke-width="2.55"/><path d="M289.50,446.70C293.25,446.97 305.47,448.03 312.00,448.30C318.53,448.57 322.45,448.57 328.70,448.30C334.95,448.03 343.62,446.55 349.50,446.70C355.38,446.85 358.80,447.95 364.00,449.20C369.20,450.45 375.15,452.82 380.70,454.20C386.25,455.58 392.58,456.74 397.30,457.50C402.02,458.26 407.05,458.54 409.00,458.75" stroke="#ff0000" stroke-width="2.55"/><path d="M407.30,450.80C409.80,450.73 416.85,450.82 422.30,450.40C427.75,449.98 434.27,448.85 440.00,448.30C445.73,447.75 451.15,447.37 456.70,447.10C462.25,446.83 467.75,446.92 473.30,446.70C478.85,446.48 484.72,446.05 490.00,445.80C495.28,445.55 500.83,445.33 505.00,445.20C509.17,445.07 513.33,445.03 515.00,445.00" stroke="#ff0000" stroke-width="2.55"/><path d="M289.50,449.20C293.25,449.27 304.78,449.53 312.00,449.60C319.22,449.67 326.55,449.25 332.80,449.60C339.05,449.95 344.30,450.93 349.50,451.70C354.70,452.47 358.80,453.10 364.00,454.20C369.20,455.30 375.15,457.33 380.70,458.30C386.25,459.27 392.58,459.65 397.30,460.00C402.02,460.35 407.05,460.33 409.00,460.40" stroke="#ff0000" stroke-width="2.55"/><path d="M409.00,460.00C414.17,460.00 432.05,459.72 440.00,460.00C447.95,460.28 451.83,461.35 456.70,461.70C461.57,462.05 464.35,462.18 469.20,462.10C474.05,462.03 480.95,461.67 485.80,461.25C490.65,460.83 493.43,460.02 498.30,459.60C503.17,459.18 512.22,458.89 515.00,458.75" stroke="#ff0000" stroke-width="2.55"/><path d="M289.50,461.70C291.87,461.13 298.57,458.93 303.70,458.30C308.83,457.67 314.75,457.82 320.30,457.90C325.85,457.97 331.43,458.53 337.00,458.75C342.57,458.97 349.20,458.99 353.70,459.20C358.20,459.41 359.50,459.58 364.00,460.00C368.50,460.42 375.15,461.07 380.70,461.70C386.25,462.32 392.58,463.33 397.30,463.75C402.02,464.17 404.83,464.06 409.00,464.20C413.17,464.34 418.00,464.33 422.30,464.60C426.60,464.87 431.85,465.32 434.80,465.80C437.75,466.28 437.05,467.01 440.00,467.50C442.95,467.99 448.33,469.03 452.50,468.75C456.67,468.47 460.13,466.98 465.00,465.80C469.87,464.62 476.15,462.73 481.70,461.70C487.25,460.67 492.75,460.17 498.30,459.60C503.85,459.03 512.22,458.52 515.00,458.30" stroke="#ff0000" stroke-width="2.55"/><path d="M289.50,464.20C291.87,463.50 298.57,460.83 303.70,460.00C308.83,459.17 315.45,459.07 320.30,459.20C325.15,459.33 328.63,459.97 332.80,460.80C336.97,461.63 341.13,463.50 345.30,464.20C349.47,464.90 354.68,465.00 357.80,465.00C360.92,465.00 360.18,464.41 364.00,464.20C367.82,463.99 375.15,463.62 380.70,463.75C386.25,463.88 392.58,464.73 397.30,465.00C402.02,465.27 404.83,465.40 409.00,465.40C413.17,465.40 418.00,465.27 422.30,465.00C426.60,464.73 431.18,464.17 434.80,463.75C438.42,463.33 438.97,462.77 444.00,462.50C449.03,462.23 459.42,462.23 465.00,462.10C470.58,461.97 473.33,461.63 477.50,461.70C481.67,461.77 485.83,461.88 490.00,462.50C494.17,463.12 498.33,464.50 502.50,465.40C506.67,466.30 512.92,467.48 515.00,467.90" stroke="#ff0000" stroke-width="2.55"/><path d="M289.50,474.20C291.87,473.63 298.57,471.50 303.70,470.80C308.83,470.10 315.45,470.00 320.30,470.00C325.15,470.00 329.32,470.38 332.80,470.80C336.28,471.22 337.72,471.25 341.20,472.50C344.68,473.75 349.40,476.92 353.70,478.30C358.00,479.68 362.50,480.80 367.00,480.80C371.50,480.80 375.65,479.55 380.70,478.30C385.75,477.05 392.58,474.33 397.30,473.30C402.02,472.27 407.05,472.30 409.00,472.10" stroke="#ff0000" stroke-width="2.55"/><path d="M332.80,470.00C336.28,469.93 348.50,469.32 353.70,469.60C358.90,469.88 358.12,471.43 364.00,471.70C369.88,471.97 381.50,471.40 389.00,471.25C396.50,471.10 405.67,470.88 409.00,470.80" stroke="#ff0000" stroke-width="2.55"/><path d="M409.00,472.50C414.17,472.50 432.05,472.37 440.00,472.50C447.95,472.63 451.15,472.60 456.70,473.30C462.25,474.00 467.75,475.79 473.30,476.70C478.85,477.61 483.05,478.33 490.00,478.75C496.95,479.17 510.83,479.12 515.00,479.20" stroke="#ff0000" stroke-width="2.55"/><path d="M465.00,464.60C467.08,465.50 473.33,467.98 477.50,470.00C481.67,472.02 485.83,475.03 490.00,476.70C494.17,478.37 498.33,479.32 502.50,480.00C506.67,480.68 512.92,480.67 515.00,480.80" stroke="#ff0000" stroke-width="2.55"/><path d="M289.50,482.50C291.87,483.20 299.53,485.32 303.70,486.70C307.87,488.08 310.33,490.04 314.50,490.80C318.67,491.56 323.57,491.80 328.70,491.25C333.83,490.70 339.42,488.54 345.30,487.50C351.18,486.46 358.10,486.12 364.00,485.00C369.90,483.88 375.15,482.05 380.70,480.80C386.25,479.55 392.58,478.18 397.30,477.50C402.02,476.82 407.05,476.83 409.00,476.70" stroke="#ff0000" stroke-width="2.55"/><path d="M409.00,475.00C411.22,475.28 418.00,476.00 422.30,476.70C426.60,477.40 431.85,478.65 434.80,479.20C437.75,479.75 436.35,479.32 440.00,480.00C443.65,480.68 451.15,482.33 456.70,483.30C462.25,484.27 467.75,485.45 473.30,485.80C478.85,486.15 483.05,485.53 490.00,485.40C496.95,485.27 510.83,485.07 515.00,485.00" stroke="#ff0000" stroke-width="2.55"/><path d="M407.30,480.40C409.80,480.33 416.85,480.20 422.30,480.00C427.75,479.80 434.27,479.07 440.00,479.20C445.73,479.33 451.15,480.95 456.70,480.80C462.25,480.65 467.75,478.57 473.30,478.30C478.85,478.03 483.05,478.92 490.00,479.20C496.95,479.48 510.83,479.87 515.00,480.00" stroke="#ff0000" stroke-width="2.55"/><path d="M289.50,492.50C291.87,492.85 299.95,494.32 303.70,494.60C307.45,494.88 307.83,493.85 312.00,494.20C316.17,494.55 323.15,496.02 328.70,496.70C334.25,497.38 339.42,498.58 345.30,498.30C351.18,498.02 359.50,495.83 364.00,495.00C368.50,494.17 368.83,494.13 372.30,493.30C375.77,492.47 379.93,490.48 384.80,490.00C389.67,489.52 395.25,490.27 401.50,490.40C407.75,490.53 415.88,490.73 422.30,490.80C428.72,490.87 434.27,490.65 440.00,490.80C445.73,490.95 451.83,491.13 456.70,491.70C461.57,492.27 465.03,493.23 469.20,494.20C473.37,495.17 477.53,497.08 481.70,497.50C485.87,497.92 488.65,498.02 494.20,496.70C499.75,495.38 511.53,490.78 515.00,489.60" stroke="#ff0000" stroke-width="2.55"/><path d="M289.50,501.70C291.87,501.13 298.57,499.28 303.70,498.30C308.83,497.32 314.75,496.35 320.30,495.80C325.85,495.25 331.43,495.55 337.00,495.00C342.57,494.45 349.20,493.47 353.70,492.50C358.20,491.53 359.50,490.17 364.00,489.20C368.50,488.23 374.45,487.61 380.70,486.70C386.95,485.79 395.95,484.24 401.50,483.75C407.05,483.26 409.13,483.54 414.00,483.75C418.87,483.96 426.37,484.51 430.70,485.00C435.03,485.49 435.67,486.15 440.00,486.70C444.33,487.25 451.15,488.23 456.70,488.30C462.25,488.37 467.75,487.52 473.30,487.10C478.85,486.68 483.05,485.87 490.00,485.80C496.95,485.73 510.83,486.55 515.00,486.70" stroke="#ff0000" stroke-width="2.55"/><path d="M350.00,502.20C352.33,501.97 357.50,500.62 364.00,500.80C370.50,500.98 382.05,503.15 389.00,503.30C395.95,503.45 398.75,501.97 405.70,501.70C412.65,501.43 424.32,502.12 430.70,501.70C437.08,501.28 441.78,499.62 444.00,499.20" stroke="#ff0000" stroke-width="2.55"/><path d="M340.00,494.50C342.00,494.12 348.00,492.67 352.00,492.20C356.00,491.73 360.62,491.37 364.00,491.70C367.38,492.03 368.83,493.10 372.30,494.20C375.77,495.30 379.93,497.33 384.80,498.30C389.67,499.27 395.25,499.72 401.50,500.00C407.75,500.28 416.75,500.28 422.30,500.00C427.85,499.72 431.85,498.58 434.80,498.30C437.75,498.02 436.35,498.15 440.00,498.30C443.65,498.45 451.15,498.63 456.70,499.20C462.25,499.77 467.75,501.02 473.30,501.70C478.85,502.38 483.05,502.75 490.00,503.30C496.95,503.85 510.83,504.72 515.00,505.00" stroke="#ff0000" stroke-width="2.55"/><path d="M440.00,490.00C442.78,490.07 451.15,489.57 456.70,490.40C462.25,491.23 469.13,493.68 473.30,495.00C477.47,496.32 477.53,497.05 481.70,498.30C485.87,499.55 492.75,501.52 498.30,502.50C503.85,503.48 512.22,503.92 515.00,504.20" stroke="#ff0000" stroke-width="2.55"/><path d="M340.00,497.50C342.00,497.33 348.00,496.63 352.00,496.50C356.00,496.37 360.62,496.82 364.00,496.70C367.38,496.58 368.13,495.46 372.30,495.80C376.47,496.14 383.03,498.05 389.00,498.75C394.97,499.45 401.85,499.93 408.10,500.00C414.35,500.07 421.18,499.20 426.50,499.20C431.82,499.20 435.67,500.07 440.00,500.00C444.33,499.93 448.33,498.33 452.50,498.75C456.67,499.17 460.13,501.46 465.00,502.50C469.87,503.54 476.15,504.30 481.70,505.00C487.25,505.70 492.75,506.57 498.30,506.70C503.85,506.83 512.22,505.95 515.00,505.80" stroke="#ff0000" stroke-width="2.55"/><path d="M289.50,503.30C293.25,503.30 304.78,503.37 312.00,503.30C319.22,503.23 326.55,503.10 332.80,502.90C339.05,502.70 344.30,502.30 349.50,502.10C354.70,501.90 359.50,501.50 364.00,501.70C368.50,501.90 371.63,503.30 376.50,503.30C381.37,503.30 387.93,502.12 393.20,501.70C398.47,501.28 402.55,500.88 408.10,500.80C413.65,500.73 421.18,501.10 426.50,501.25C431.82,501.40 434.97,501.62 440.00,501.70C445.03,501.77 451.15,501.28 456.70,501.70C462.25,502.12 468.45,503.52 473.30,504.20C478.15,504.88 481.63,504.83 485.80,505.80C489.97,506.77 493.43,508.88 498.30,510.00C503.17,511.12 512.22,512.08 515.00,512.50" stroke="#ff0000" stroke-width="2.55"/><path d="M465.00,495.00C467.08,495.55 473.33,497.33 477.50,498.30C481.67,499.27 485.13,499.82 490.00,500.80C494.87,501.78 502.53,503.43 506.70,504.20C510.87,504.97 513.62,505.20 515.00,505.40" stroke="#ff0000" stroke-width="2.55"/><path d="M289.50,505.00C292.55,505.13 301.27,505.52 307.80,505.80C314.33,506.08 322.45,506.00 328.70,506.70C334.95,507.40 340.45,509.73 345.30,510.00C350.15,510.27 354.68,508.72 357.80,508.30C360.92,507.88 361.58,507.70 364.00,507.50C366.42,507.30 370.22,506.97 372.30,507.10C374.38,507.23 374.42,506.85 376.50,508.30C378.58,509.75 382.02,512.73 384.80,515.80C387.58,518.87 390.42,522.80 393.20,526.70C395.98,530.60 399.02,535.25 401.50,539.20C403.98,543.15 407.00,548.53 408.10,550.40" stroke="#ff0000" stroke-width="2.55"/><path d="M289.50,506.00C292.08,506.42 299.92,507.75 305.00,508.50C310.08,509.25 315.00,509.75 320.00,510.50C325.00,511.25 330.00,511.83 335.00,513.00C340.00,514.17 345.00,515.67 350.00,517.50C355.00,519.33 359.50,521.33 365.00,524.00C370.50,526.67 377.83,530.58 383.00,533.50C388.17,536.42 391.82,538.68 396.00,541.50C400.18,544.32 406.08,548.92 408.10,550.40" stroke="#ff0000" stroke-width="2.55"/><path d="M289.50,509.00C292.08,509.42 299.42,510.62 305.00,511.50C310.58,512.38 317.17,513.47 323.00,514.30C328.83,515.13 334.67,515.22 340.00,516.50C345.33,517.78 349.83,519.97 355.00,522.00C360.17,524.03 366.00,526.37 371.00,528.70C376.00,531.03 380.83,533.62 385.00,536.00C389.17,538.38 392.15,540.60 396.00,543.00C399.85,545.40 406.08,549.17 408.10,550.40" stroke="#ff0000" stroke-width="2.55"/><path d="M408.10,550.40C410.47,546.72 417.85,534.75 422.30,528.30C426.75,521.85 431.85,515.45 434.80,511.70C437.75,507.95 437.75,507.88 440.00,505.80C442.25,503.72 446.22,501.00 448.30,499.20C450.38,497.40 450.88,496.53 452.50,495.00C454.12,493.47 457.08,490.83 458.00,490.00" stroke="#ff0000" stroke-width="2.55"/><path d="M408.10,550.40C410.47,548.80 417.85,543.92 422.30,540.80C426.75,537.68 431.85,533.63 434.80,531.70C437.75,529.77 436.35,531.43 440.00,529.20C443.65,526.97 451.15,521.22 456.70,518.30C462.25,515.38 468.45,512.67 473.30,511.70C478.15,510.73 481.63,511.67 485.80,512.50C489.97,513.33 493.43,515.66 498.30,516.70C503.17,517.74 512.22,518.41 515.00,518.75" stroke="#ff0000" stroke-width="2.55"/><path d="M408.10,550.40C410.47,548.67 417.85,543.23 422.30,540.00C426.75,536.77 431.85,532.95 434.80,531.00C437.75,529.05 436.35,530.55 440.00,528.30C443.65,526.05 451.15,520.48 456.70,517.50C462.25,514.52 468.45,511.44 473.30,510.40C478.15,509.36 481.63,510.48 485.80,511.25C489.97,512.02 493.43,513.96 498.30,515.00C503.17,516.04 512.22,517.08 515.00,517.50" stroke="#ff0000" stroke-width="2.55"/><path d="M532.75,179.40C535.25,179.60 542.12,179.88 547.75,180.60C553.38,181.32 560.25,182.92 566.50,183.75C572.75,184.58 576.92,185.29 585.25,185.60C593.58,185.91 605.71,185.49 616.50,185.60C627.29,185.71 640.04,186.35 650.00,186.25C659.96,186.15 666.25,185.31 676.25,185.00C686.25,184.69 704.38,184.50 710.00,184.40" stroke="#ff0000" stroke-width="2.55"/><path d="M532.75,196.25C535.25,195.94 541.08,195.23 547.75,194.40C554.42,193.57 564.42,191.78 572.75,191.25C581.08,190.72 589.42,191.04 597.75,191.25C606.08,191.46 613.83,192.08 622.75,192.50C631.67,192.92 646.50,193.54 651.25,193.75" stroke="#ff0000" stroke-width="2.55"/><path d="M649.40,190.00C653.88,189.90 666.15,189.61 676.25,189.40C686.35,189.19 704.38,188.86 710.00,188.75" stroke="#ff0000" stroke-width="2.55"/><path d="M532.75,199.40C535.25,199.92 542.12,200.53 547.75,202.50C553.38,204.47 560.25,208.12 566.50,211.25C572.75,214.38 578.58,218.64 585.25,221.25C591.92,223.86 599.21,226.28 606.50,226.90C613.79,227.53 624.25,225.42 629.00,225.00C633.75,224.58 631.29,224.61 635.00,224.40C638.71,224.19 648.54,223.86 651.25,223.75" stroke="#ff0000" stroke-width="2.55"/><path d="M649.40,216.25C653.88,216.36 666.15,216.48 676.25,216.90C686.35,217.32 704.38,218.44 710.00,218.75" stroke="#ff0000" stroke-width="2.55"/><path d="M532.75,249.40C535.25,249.08 542.12,248.86 547.75,247.50C553.38,246.14 560.25,243.33 566.50,241.25C572.75,239.17 579.00,236.36 585.25,235.00C591.50,233.64 597.75,232.68 604.00,233.10C610.25,233.52 618.00,236.35 622.75,237.50C627.50,238.65 627.75,239.38 632.50,240.00C637.25,240.62 645.00,241.46 651.25,241.25C657.50,241.04 663.75,240.00 670.00,238.75C676.25,237.50 682.08,235.00 688.75,233.75C695.42,232.50 706.46,231.67 710.00,231.25" stroke="#ff0000" stroke-width="2.55"/><path d="M532.75,255.00C538.38,254.90 554.62,254.72 566.50,254.40C578.38,254.08 593.58,253.21 604.00,253.10C614.42,252.99 621.12,253.43 629.00,253.75C636.88,254.07 647.54,254.79 651.25,255.00" stroke="#ff0000" stroke-width="2.55"/><path d="M628.75,260.00C632.50,259.68 642.29,258.20 651.25,258.10C660.21,258.00 677.29,259.18 682.50,259.40" stroke="#ff0000" stroke-width="2.55"/><path d="M532.75,261.90C535.25,262.00 542.12,261.98 547.75,262.50C553.38,263.02 559.21,264.68 566.50,265.00C573.79,265.32 583.17,265.02 591.50,264.40C599.83,263.77 608.62,262.08 616.50,261.25C624.38,260.42 631.92,259.82 638.75,259.40C645.58,258.98 651.25,258.75 657.50,258.75C663.75,258.75 670.00,258.77 676.25,259.40C682.50,260.02 689.38,261.88 695.00,262.50C700.62,263.12 707.50,263.00 710.00,263.10" stroke="#ff0000" stroke-width="2.55"/><path d="M532.75,278.75C534.62,277.81 539.42,274.66 544.00,273.10C548.58,271.54 554.42,269.60 560.25,269.40C566.08,269.20 572.75,271.28 579.00,271.90C585.25,272.52 591.50,273.62 597.75,273.10C604.00,272.58 609.67,270.73 616.50,268.75C623.33,266.77 631.92,262.61 638.75,261.25C645.58,259.89 651.25,260.18 657.50,260.60C663.75,261.02 670.00,262.60 676.25,263.75C682.50,264.90 689.38,266.46 695.00,267.50C700.62,268.54 707.50,269.58 710.00,270.00" stroke="#ff0000" stroke-width="2.55"/><path d="M532.75,285.00C534.62,285.83 539.83,288.54 544.00,290.00C548.17,291.46 552.96,293.75 557.75,293.75C562.54,293.75 567.12,292.50 572.75,290.00C578.38,287.50 585.25,282.29 591.50,278.75C597.75,275.21 604.00,271.21 610.25,268.75C616.50,266.29 622.17,264.52 629.00,264.00C635.83,263.48 647.54,265.33 651.25,265.60" stroke="#ff0000" stroke-width="2.55"/><path d="M657.50,259.40C660.62,259.71 670.00,260.52 676.25,261.25C682.50,261.98 689.38,263.12 695.00,263.75C700.62,264.38 707.50,264.79 710.00,265.00" stroke="#ff0000" stroke-width="2.55"/><path d="M649.40,283.10C652.83,282.79 663.44,282.28 670.00,281.25C676.56,280.22 682.08,278.26 688.75,276.90C695.42,275.54 706.46,273.73 710.00,273.10" stroke="#ff0000" stroke-width="2.55"/><path d="M532.75,336.25C536.29,336.36 546.29,337.21 554.00,336.90C561.71,336.59 570.67,335.97 579.00,334.40C587.33,332.83 595.67,330.32 604.00,327.50C612.33,324.68 621.33,319.90 629.00,317.50C636.67,315.10 643.17,313.10 650.00,313.10C656.83,313.10 663.54,315.10 670.00,317.50C676.46,319.90 682.08,324.58 688.75,327.50C695.42,330.42 706.46,333.75 710.00,335.00" stroke="#ff0000" stroke-width="2.55"/><path d="M532.30,342.50C534.53,342.63 541.38,342.75 545.70,343.30C550.02,343.85 554.03,344.55 558.20,345.80C562.37,347.05 565.85,349.27 570.70,350.80C575.55,352.33 580.92,353.47 587.30,355.00C593.68,356.53 603.17,358.82 609.00,360.00C614.83,361.18 617.30,361.97 622.30,362.10C627.30,362.23 634.13,361.22 639.00,360.80C643.87,360.38 649.42,359.80 651.50,359.60" stroke="#ff0000" stroke-width="2.55"/><path d="M532.30,348.30C535.22,348.17 544.80,347.84 549.80,347.50C554.80,347.16 557.43,346.53 562.30,346.25C567.17,345.97 573.43,346.07 579.00,345.80C584.57,345.53 591.25,344.87 595.70,344.60C600.15,344.33 600.57,344.83 605.70,344.20C610.83,343.57 619.57,341.57 626.50,340.80C633.43,340.03 641.75,339.73 647.30,339.60C652.85,339.47 655.60,339.65 659.80,340.00C664.00,340.35 668.30,340.87 672.50,341.70C676.70,342.53 681.53,344.24 685.00,345.00C688.47,345.76 690.52,346.53 693.30,346.25C696.08,345.97 698.92,344.06 701.70,343.30C704.48,342.54 708.62,341.97 710.00,341.70" stroke="#ff0000" stroke-width="2.55"/><path d="M532.30,349.20C535.92,348.98 547.60,348.25 554.00,347.90C560.40,347.55 565.15,347.45 570.70,347.10C576.25,346.75 582.45,345.87 587.30,345.80C592.15,345.73 596.18,346.35 599.80,346.70C603.42,347.05 605.25,347.22 609.00,347.90C612.75,348.58 617.30,349.75 622.30,350.80C627.30,351.85 634.27,353.43 639.00,354.20C643.73,354.97 645.82,355.55 650.70,355.40C655.58,355.25 663.28,354.07 668.30,353.30C673.32,352.53 676.63,351.63 680.80,350.80C684.97,349.97 688.43,348.37 693.30,348.30C698.17,348.23 707.22,350.05 710.00,350.40" stroke="#ff0000" stroke-width="2.55"/><path d="M649.00,355.00C653.62,354.93 666.53,354.73 676.70,354.60C686.87,354.47 704.45,354.27 710.00,354.20" stroke="#ff0000" stroke-width="2.55"/><path d="M532.30,362.50C535.92,362.37 547.60,361.42 554.00,361.70C560.40,361.98 565.83,363.02 570.70,364.20C575.57,365.38 579.03,367.23 583.20,368.75C587.37,370.27 591.40,372.68 595.70,373.30C600.00,373.93 604.57,373.05 609.00,372.50C613.43,371.95 618.68,370.70 622.30,370.00C625.92,369.30 627.92,368.17 630.70,368.30C633.48,368.43 635.53,369.97 639.00,370.80C642.47,371.63 649.42,372.88 651.50,373.30" stroke="#ff0000" stroke-width="2.55"/><path d="M532.30,385.80C534.53,385.12 540.70,383.63 545.70,381.70C550.70,379.77 556.75,376.15 562.30,374.20C567.85,372.25 573.43,370.91 579.00,370.00C584.57,369.09 591.25,369.23 595.70,368.75C600.15,368.27 601.27,367.44 605.70,367.10C610.13,366.76 616.75,366.63 622.30,366.70C627.85,366.77 634.10,367.43 639.00,367.50C643.90,367.57 645.42,367.31 651.70,367.10C657.98,366.89 669.77,366.67 676.70,366.25C683.63,365.83 687.75,365.02 693.30,364.60C698.85,364.18 707.22,363.89 710.00,363.75" stroke="#ff0000" stroke-width="2.55"/><path d="M649.20,377.90C652.38,377.55 662.33,376.98 668.30,375.80C674.27,374.62 680.13,372.39 685.00,370.80C689.87,369.21 693.33,367.35 697.50,366.25C701.67,365.15 707.92,364.54 710.00,364.20" stroke="#ff0000" stroke-width="2.55"/><path d="M649.20,380.40C651.70,380.05 658.93,379.07 664.20,378.30C669.47,377.53 675.95,375.65 680.80,375.80C685.65,375.95 688.43,377.80 693.30,379.20C698.17,380.60 707.22,383.37 710.00,384.20" stroke="#ff0000" stroke-width="2.55"/><path d="M532.30,380.00C535.22,380.07 543.40,379.57 549.80,380.40C556.20,381.23 564.45,384.78 570.70,385.00C576.95,385.22 582.45,382.82 587.30,381.70C592.15,380.58 596.18,378.52 599.80,378.30C603.42,378.08 606.63,379.98 609.00,380.40C611.37,380.82 610.38,380.03 614.00,380.80C617.62,381.57 624.45,383.68 630.70,385.00C636.95,386.32 648.03,388.12 651.50,388.75" stroke="#ff0000" stroke-width="2.55"/><path d="M532.30,389.60C535.22,389.53 543.40,389.83 549.80,389.20C556.20,388.57 565.13,385.67 570.70,385.80C576.27,385.93 579.03,388.60 583.20,390.00C587.37,391.40 591.95,393.23 595.70,394.20C599.45,395.17 601.27,395.73 605.70,395.80C610.13,395.87 616.75,395.08 622.30,394.60C627.85,394.12 634.27,393.32 639.00,392.90C643.73,392.48 645.82,391.96 650.70,392.10C655.58,392.24 662.58,393.82 668.30,393.75C674.02,393.68 680.13,392.61 685.00,391.70C689.87,390.79 693.33,389.55 697.50,388.30C701.67,387.05 707.92,384.88 710.00,384.20" stroke="#ff0000" stroke-width="2.55"/><path d="M532.30,396.25C535.22,396.74 543.40,397.88 549.80,399.20C556.20,400.52 564.45,403.65 570.70,404.20C576.95,404.75 581.47,403.07 587.30,402.50C593.13,401.93 599.87,401.35 605.70,400.80C611.53,400.25 616.75,399.96 622.30,399.20C627.85,398.44 634.10,396.82 639.00,396.25C643.90,395.68 647.50,395.59 651.70,395.80C655.90,396.01 660.03,396.67 664.20,397.50C668.37,398.33 671.85,399.83 676.70,400.80C681.55,401.77 687.75,402.88 693.30,403.30C698.85,403.72 707.22,403.30 710.00,403.30" stroke="#ff0000" stroke-width="2.55"/><path d="M579.00,390.00C581.08,390.55 586.50,392.33 591.50,393.30C596.50,394.27 603.87,395.58 609.00,395.80C614.13,396.02 620.08,394.80 622.30,394.60" stroke="#ff0000" stroke-width="2.55"/><path d="M532.30,402.50C535.92,402.71 547.60,403.20 554.00,403.75C560.40,404.30 565.15,405.11 570.70,405.80C576.25,406.49 580.08,407.55 587.30,407.90C594.52,408.25 605.38,407.90 614.00,407.90C622.62,407.90 631.33,407.90 639.00,407.90C646.67,407.90 652.33,407.90 660.00,407.90C667.67,407.90 676.67,407.90 685.00,407.90C693.33,407.90 705.83,407.90 710.00,407.90" stroke="#ff0000" stroke-width="2.55"/><path d="M532.30,404.20C535.92,404.47 546.92,405.18 554.00,405.80C561.08,406.42 568.55,407.27 574.80,407.90C581.05,408.53 584.97,409.12 591.50,409.60C598.03,410.08 607.47,410.60 614.00,410.80C620.53,411.00 625.15,410.23 630.70,410.80C636.25,411.37 643.80,413.57 647.30,414.20C650.80,414.83 648.20,414.82 651.70,414.60C655.20,414.38 662.75,413.38 668.30,412.90C673.85,412.42 678.05,411.83 685.00,411.70C691.95,411.57 705.83,412.03 710.00,412.10" stroke="#ff0000" stroke-width="2.55"/><path d="M532.30,416.70C534.53,416.42 540.70,415.57 545.70,415.00C550.70,414.43 557.45,413.43 562.30,413.30C567.15,413.17 569.93,413.63 574.80,414.20C579.67,414.77 585.67,416.28 591.50,416.70C597.33,417.12 603.97,416.02 609.80,416.70C615.63,417.38 619.55,419.70 626.50,420.80C633.45,421.90 647.33,422.88 651.50,423.30" stroke="#ff0000" stroke-width="2.55"/><path d="M649.80,420.80C654.28,420.80 669.45,420.23 676.70,420.80C683.95,421.37 687.75,422.95 693.30,424.20C698.85,425.45 707.22,427.62 710.00,428.30" stroke="#ff0000" stroke-width="2.55"/><path d="M532.30,422.90C535.92,422.77 547.60,422.23 554.00,422.10C560.40,421.97 565.83,421.20 570.70,422.10C575.57,423.00 579.73,425.48 583.20,427.50C586.67,429.52 588.73,431.83 591.50,434.20C594.27,436.57 596.88,439.35 599.80,441.70C602.72,444.05 606.63,446.58 609.00,448.30C611.37,450.02 613.17,451.38 614.00,452.00" stroke="#ff0000" stroke-width="2.55"/><path d="M532.30,439.20C535.22,438.37 544.10,435.45 549.80,434.20C555.50,432.95 560.93,432.40 566.50,431.70C572.07,431.00 578.33,430.00 583.20,430.00C588.07,430.00 591.40,430.58 595.70,431.70C600.00,432.82 605.25,435.73 609.00,436.70C612.75,437.67 613.90,437.78 618.20,437.50C622.50,437.22 629.38,435.70 634.80,435.00C640.22,434.30 648.05,433.58 650.70,433.30" stroke="#ff0000" stroke-width="2.55"/><path d="M649.80,431.70C654.28,431.97 669.45,433.30 676.70,433.30C683.95,433.30 687.75,432.53 693.30,431.70C698.85,430.87 707.22,428.87 710.00,428.30" stroke="#ff0000" stroke-width="2.55"/><path d="M532.30,441.25C535.92,441.25 547.60,441.11 554.00,441.25C560.40,441.39 565.15,441.61 570.70,442.10C576.25,442.59 582.45,443.58 587.30,444.20C592.15,444.82 596.18,445.38 599.80,445.80C603.42,446.22 605.25,447.25 609.00,446.70C612.75,446.15 615.92,442.92 622.30,442.50C628.68,442.08 641.02,443.87 647.30,444.20C653.58,444.53 655.80,444.65 660.00,444.50C664.20,444.35 667.63,443.22 672.50,443.30C677.37,443.38 682.95,444.17 689.20,445.00C695.45,445.83 706.53,447.75 710.00,448.30" stroke="#ff0000" stroke-width="2.55"/><path d="M532.30,446.70C534.53,446.97 540.00,447.33 545.70,448.30C551.40,449.27 560.25,452.08 566.50,452.50C572.75,452.92 577.65,451.63 583.20,450.80C588.75,449.97 595.50,448.18 599.80,447.50C604.10,446.82 607.47,446.83 609.00,446.70" stroke="#ff0000" stroke-width="2.55"/><path d="M587.30,445.00C589.38,445.13 596.18,444.68 599.80,445.80C603.42,446.92 606.63,450.45 609.00,451.70C611.37,452.95 610.38,452.33 614.00,453.30C617.62,454.27 624.58,456.45 630.70,457.50C636.82,458.55 647.37,459.25 650.70,459.60" stroke="#ff0000" stroke-width="2.55"/><path d="M589.00,445.80C591.78,445.95 600.15,445.58 605.70,446.70C611.25,447.82 616.75,450.70 622.30,452.50C627.85,454.30 634.27,456.38 639.00,457.50C643.73,458.62 648.75,458.92 650.70,459.20" stroke="#ff0000" stroke-width="2.55"/><path d="M633.20,445.00C635.55,445.13 642.17,445.80 647.30,445.80C652.43,445.80 657.72,445.13 664.00,445.00C670.28,444.87 679.42,444.58 685.00,445.00C690.58,445.42 693.33,446.95 697.50,447.50C701.67,448.05 707.92,448.17 710.00,448.30" stroke="#ff0000" stroke-width="2.55"/><path d="M649.80,455.80C652.88,455.67 662.43,455.68 668.30,455.00C674.17,454.32 680.13,452.74 685.00,451.70C689.87,450.66 693.33,449.32 697.50,448.75C701.67,448.18 707.92,448.38 710.00,448.30" stroke="#ff0000" stroke-width="2.55"/><path d="M532.30,470.80C535.92,469.97 547.60,467.18 554.00,465.80C560.40,464.42 565.15,463.47 570.70,462.50C576.25,461.53 580.08,460.28 587.30,460.00C594.52,459.72 605.38,460.25 614.00,460.80C622.62,461.35 631.33,462.67 639.00,463.30C646.67,463.93 652.33,464.32 660.00,464.60C667.67,464.88 676.67,464.80 685.00,465.00C693.33,465.20 705.83,465.67 710.00,465.80" stroke="#ff0000" stroke-width="2.55"/><path d="M649.80,460.00C653.58,459.93 665.25,459.47 672.50,459.60C679.75,459.73 687.05,460.32 693.30,460.80C699.55,461.28 707.22,462.22 710.00,462.50" stroke="#ff0000" stroke-width="2.55"/><path d="M532.30,471.70C535.22,471.13 544.10,468.87 549.80,468.30C555.50,467.73 560.93,468.02 566.50,468.30C572.07,468.58 578.33,469.02 583.20,470.00C588.07,470.98 591.27,472.95 595.70,474.20C600.13,475.45 603.97,477.23 609.80,477.50C615.63,477.77 623.88,476.50 630.70,475.80C637.52,475.10 644.43,472.88 650.70,473.30C656.97,473.72 662.58,476.90 668.30,478.30C674.02,479.70 678.05,481.07 685.00,481.70C691.95,482.33 705.83,482.03 710.00,482.10" stroke="#ff0000" stroke-width="2.55"/><path d="M532.30,474.20C535.92,473.85 547.60,472.80 554.00,472.10C560.40,471.40 565.83,470.63 570.70,470.00C575.57,469.37 579.03,469.13 583.20,468.30C587.37,467.47 591.95,465.83 595.70,465.00C599.45,464.17 601.95,463.43 605.70,463.30C609.45,463.17 614.03,463.08 618.20,464.20C622.37,465.32 625.28,468.55 630.70,470.00C636.12,471.45 647.37,472.42 650.70,472.90" stroke="#ff0000" stroke-width="2.55"/><path d="M532.30,479.20C535.92,479.33 548.30,480.28 554.00,480.00C559.70,479.72 562.33,478.54 566.50,477.50C570.67,476.46 574.83,474.58 579.00,473.75C583.17,472.92 587.05,472.29 591.50,472.50C595.95,472.71 600.57,475.13 605.70,475.00C610.83,474.87 617.45,472.82 622.30,471.70C627.15,470.58 629.90,469.42 634.80,468.30C639.70,467.18 644.72,465.55 651.70,465.00C658.68,464.45 669.77,464.72 676.70,465.00C683.63,465.28 687.75,466.28 693.30,466.70C698.85,467.12 707.22,467.37 710.00,467.50" stroke="#ff0000" stroke-width="2.55"/><path d="M635.00,472.50C639.17,472.63 653.05,473.17 660.00,473.30C666.95,473.43 671.15,473.85 676.70,473.30C682.25,472.75 687.75,471.25 693.30,470.00C698.85,468.75 707.22,466.50 710.00,465.80" stroke="#ff0000" stroke-width="2.55"/><path d="M532.30,478.30C535.92,478.87 547.60,480.45 554.00,481.70C560.40,482.95 565.15,484.70 570.70,485.80C576.25,486.90 581.47,488.02 587.30,488.30C593.13,488.58 599.87,488.60 605.70,487.50C611.53,486.40 616.75,483.30 622.30,481.70C627.85,480.10 634.27,478.53 639.00,477.90C643.73,477.27 648.75,477.90 650.70,477.90" stroke="#ff0000" stroke-width="2.55"/><path d="M649.80,480.40C652.88,480.20 662.43,478.85 668.30,479.20C674.17,479.55 679.43,481.67 685.00,482.50C690.57,483.33 697.53,483.92 701.70,484.20C705.87,484.48 708.62,484.20 710.00,484.20" stroke="#ff0000" stroke-width="2.55"/><path d="M532.30,485.00C535.92,485.70 547.60,487.95 554.00,489.20C560.40,490.45 565.15,492.08 570.70,492.50C576.25,492.92 580.78,492.12 587.30,491.70C593.82,491.28 602.57,490.57 609.80,490.00C617.03,489.43 623.75,488.30 630.70,488.30C637.65,488.30 646.62,489.58 651.50,490.00C656.38,490.42 655.12,490.80 660.00,490.80C664.88,490.80 674.55,490.83 680.80,490.00C687.05,489.17 692.63,486.77 697.50,485.80C702.37,484.83 707.92,484.47 710.00,484.20" stroke="#ff0000" stroke-width="2.55"/><path d="M635.00,485.00C639.17,484.72 653.05,483.17 660.00,483.30C666.95,483.43 671.15,484.27 676.70,485.80C682.25,487.33 687.75,492.08 693.30,492.50C698.85,492.92 707.22,489.00 710.00,488.30" stroke="#ff0000" stroke-width="2.55"/><path d="M532.30,494.20C535.92,494.33 547.60,495.15 554.00,495.00C560.40,494.85 565.15,493.02 570.70,493.30C576.25,493.58 582.17,495.87 587.30,496.70C592.43,497.53 597.05,497.20 601.50,498.30C605.95,499.40 609.13,502.60 614.00,503.30C618.87,504.00 624.70,502.77 630.70,502.50C636.70,502.23 641.65,501.83 650.00,501.70C658.35,501.57 673.58,501.85 680.80,501.70C688.02,501.55 688.43,501.37 693.30,500.80C698.17,500.23 707.22,498.72 710.00,498.30" stroke="#ff0000" stroke-width="2.55"/><path d="M532.30,505.80C535.22,505.53 544.10,504.82 549.80,504.20C555.50,503.58 561.63,502.67 566.50,502.10C571.37,501.53 574.13,501.50 579.00,500.80C583.87,500.10 590.70,499.15 595.70,497.90C600.70,496.65 603.87,495.17 609.00,493.30C614.13,491.43 620.12,488.22 626.50,486.70C632.88,485.18 640.22,484.48 647.30,484.20C654.38,483.92 665.38,484.87 669.00,485.00" stroke="#ff0000" stroke-width="2.55"/><path d="M589.00,499.20C591.78,498.50 600.15,495.15 605.70,495.00C611.25,494.85 616.75,497.47 622.30,498.30C627.85,499.13 632.72,499.72 639.00,500.00C645.28,500.28 653.03,500.13 660.00,500.00C666.97,499.87 674.83,500.03 680.80,499.20C686.77,498.37 690.93,494.87 695.80,495.00C700.67,495.13 707.63,499.17 710.00,500.00" stroke="#ff0000" stroke-width="2.55"/><path d="M532.30,498.30C535.92,498.38 547.60,498.33 554.00,498.75C560.40,499.17 565.15,500.31 570.70,500.80C576.25,501.29 581.47,501.35 587.30,501.70C593.13,502.05 599.87,502.83 605.70,502.90C611.53,502.97 616.75,502.38 622.30,502.10C627.85,501.83 632.72,501.39 639.00,501.25C645.28,501.11 653.72,501.18 660.00,501.25C666.28,501.32 671.83,501.43 676.70,501.70C681.57,501.97 685.03,502.70 689.20,502.90C693.37,503.10 698.23,502.97 701.70,502.90C705.17,502.83 708.62,502.57 710.00,502.50" stroke="#ff0000" stroke-width="2.55"/><path d="M560.00,509.00C561.67,508.58 566.67,507.42 570.00,506.50C573.33,505.58 576.67,504.45 580.00,503.50C583.33,502.55 586.42,501.63 590.00,500.80C593.58,499.97 598.20,498.35 601.50,498.50C604.80,498.65 607.72,500.75 609.80,501.70C611.88,502.65 611.92,502.53 614.00,504.20C616.08,505.87 619.52,508.65 622.30,511.70C625.08,514.75 627.92,518.75 630.70,522.50C633.48,526.25 635.73,529.55 639.00,534.20C642.27,538.85 648.42,547.70 650.30,550.40" stroke="#ff0000" stroke-width="2.55"/><path d="M532.30,515.80C535.22,515.46 543.40,514.09 549.80,513.75C556.20,513.41 564.45,513.54 570.70,513.75C576.95,513.96 582.92,514.49 587.30,515.00C591.68,515.51 593.93,516.10 597.00,516.80C600.07,517.50 602.87,518.17 605.70,519.20C608.53,520.23 611.23,521.48 614.00,523.00C616.77,524.52 619.52,526.55 622.30,528.30C625.08,530.05 627.92,531.55 630.70,533.50C633.48,535.45 635.73,537.18 639.00,540.00C642.27,542.82 648.42,548.67 650.30,550.40" stroke="#ff0000" stroke-width="2.55"/><path d="M532.30,508.75C535.22,508.96 544.80,509.93 549.80,510.00C554.80,510.07 558.13,509.95 562.30,509.20C566.47,508.45 570.63,505.65 574.80,505.50C578.97,505.35 583.60,507.13 587.30,508.30C591.00,509.47 593.93,511.30 597.00,512.50C600.07,513.70 602.87,514.33 605.70,515.50C608.53,516.67 611.23,517.92 614.00,519.50C616.77,521.08 619.52,523.00 622.30,525.00C625.08,527.00 627.92,529.28 630.70,531.50C633.48,533.72 635.73,535.15 639.00,538.30C642.27,541.45 648.42,548.38 650.30,550.40" stroke="#ff0000" stroke-width="2.55"/><path d="M554.00,500.00C558.17,500.28 570.38,502.40 579.00,501.70C587.62,501.00 598.48,496.37 605.70,495.80C612.92,495.23 616.75,497.53 622.30,498.30C627.85,499.07 632.72,500.05 639.00,500.40C645.28,500.75 653.72,500.47 660.00,500.40C666.28,500.33 671.83,500.35 676.70,500.00C681.57,499.65 686.02,499.07 689.20,498.30C692.38,497.53 693.72,495.53 695.80,495.40C697.88,495.27 699.33,496.73 701.70,497.50C704.07,498.27 708.62,499.58 710.00,500.00" stroke="#ff0000" stroke-width="2.55"/><path d="M650.30,550.40C652.62,546.72 659.80,534.48 664.20,528.30C668.60,522.12 673.23,517.32 676.70,513.30C680.17,509.28 682.23,506.00 685.00,504.20C687.77,502.40 689.13,502.92 693.30,502.50C697.47,502.08 707.22,501.83 710.00,501.70" stroke="#ff0000" stroke-width="2.55"/><path d="M676.70,501.70C678.78,502.12 685.03,503.52 689.20,504.20C693.37,504.88 698.23,505.67 701.70,505.80C705.17,505.93 708.62,505.13 710.00,505.00" stroke="#ff0000" stroke-width="2.55"/><path d="M650.30,550.40C653.30,548.12 662.52,541.07 668.30,536.70C674.08,532.33 680.13,527.68 685.00,524.20C689.87,520.72 693.33,517.68 697.50,515.80C701.67,513.92 707.92,513.38 710.00,512.90" stroke="#ff0000" stroke-width="2.55"/><path d="M650.30,550.40C653.30,548.25 662.52,541.45 668.30,537.50C674.08,533.55 680.13,529.75 685.00,526.70C689.87,523.65 693.33,520.94 697.50,519.20C701.67,517.46 707.92,516.74 710.00,516.25" stroke="#ff0000" stroke-width="2.55"/><path d="M726.60,179.00 L735.50,181.00 L752.00,184.75 L759.50,188.50 L749.00,190.75 L734.00,192.25 L729.50,194.50 L729.50,199.00 L732.50,212.50 L737.00,220.00 L741.50,224.50 L740.00,227.50 L741.50,231.00 L737.00,237.00 L736.25,244.50 L741.50,248.25 L752.00,250.50 L767.00,253.50 L764.00,259.50 L794.00,261.00 L807.50,264.00 L785.00,266.25 L773.00,268.50 L771.50,274.50 L749.00,278.00 L752.00,279.50 L747.50,281.00 L752.00,284.00 L746.00,288.50 L741.50,294.50 L737.00,299.75 L728.00,302.75 L726.60,303.50 L726.60,313.00 L728.00,315.50 L734.00,322.00 L740.00,327.25 L752.00,332.50 L753.50,335.50 L741.50,338.50 L776.00,342.25 L756.50,346.00 L785.00,348.25 L752.00,352.00 L783.50,355.75 L747.50,358.75 L777.50,364.00 L809.00,367.75 L782.00,370.00 L767.00,373.50 L776.00,380.50 L759.50,385.00 L750.50,388.75 L759.50,392.50 L758.00,396.25 L795.50,400.00 L779.00,402.25 L785.00,404.50 L794.00,406.00 L767.00,409.75 L774.50,412.00 L752.00,418.00 L753.50,419.50 L749.00,425.50 L752.00,428.50 L761.00,433.00 L752.00,437.50 L767.00,443.50 L752.00,447.25 L740.00,451.00 L737.00,454.75 L734.00,458.50 L740.00,460.75 L752.00,463.00 L740.00,466.00 L731.00,470.50 L735.50,479.50 L731.00,487.00 L732.50,496.00 L734.00,503.50 L729.50,510.00 L728.75,520.00 L728.00,535.00 L726.60,545.00" stroke="#1f77b4" stroke-width="2.6" fill="none"/><path d="M726.60,178.50 L728.00,178.75 L760.00,179.30 L779.00,181.00 L782.00,182.50 L812.00,184.00 L851.00,184.75 L827.00,187.75 L797.00,189.25 L752.00,191.50 L734.00,193.75 L729.50,196.00 L732.50,199.00 L737.00,201.25 L738.50,208.00 L741.50,214.00 L743.75,220.00 L741.50,223.75 L732.50,226.50 L740.00,228.00 L746.00,231.00 L744.50,235.50 L752.00,241.50 L740.00,244.50 L737.00,247.50 L741.50,250.50 L767.00,252.75 L825.50,254.25 L782.00,255.75 L747.50,258.75 L752.00,262.50 L758.00,264.75 L741.50,267.00 L735.50,271.50 L731.00,277.50 L730.25,280.00 L729.50,284.00 L728.75,293.00 L728.00,301.00 L726.60,302.50 L726.60,313.00 L728.00,314.00 L732.50,318.50 L738.50,326.50 L749.00,331.75 L762.50,334.75 L752.00,336.25 L743.00,338.50 L785.00,340.75 L759.50,344.50 L788.00,346.00 L821.00,348.25 L747.50,352.75 L774.50,355.75 L737.00,358.75 L761.00,362.50 L755.00,367.00 L750.50,371.50 L753.50,373.75 L770.00,379.75 L749.00,385.00 L744.50,388.75 L750.50,391.75 L744.50,397.00 L767.00,400.00 L774.50,403.00 L813.50,408.25 L770.00,409.75 L788.00,412.00 L743.00,416.50 L750.50,419.50 L746.00,424.00 L749.00,428.50 L774.50,431.50 L782.00,434.50 L765.50,437.50 L786.50,442.00 L771.50,445.75 L785.00,448.00 L767.00,451.75 L747.50,455.50 L737.00,457.75 L741.50,460.75 L735.50,466.00 L737.00,468.25 L747.50,472.00 L734.00,475.00 L740.00,480.25 L734.00,487.00 L737.00,493.00 L735.50,503.50 L731.00,509.50 L733.25,515.50 L729.50,523.00 L728.00,532.00 L727.25,539.50 L726.60,546.00" stroke="#ff7f0e" stroke-width="2.6" fill="none"/><path d="M726.60,180.00 L726.60,380.00 L728.75,392.50 L729.50,400.00 L731.00,406.00 L728.75,412.00 L729.50,418.00 L732.50,442.00 L731.00,452.50 L737.00,455.50 L767.00,458.50 L797.00,463.00 L759.50,467.50 L761.00,468.25 L797.00,470.50 L834.50,472.75 L788.00,475.00 L785.00,478.00 L777.50,481.00 L794.00,484.75 L806.00,487.75 L777.50,490.75 L797.00,494.50 L822.50,499.00 L801.50,502.75 L759.50,506.50 L758.00,507.25 L753.50,512.50 L762.50,515.50 L747.50,518.50 L735.50,524.50 L729.50,532.00 L728.00,539.50 L726.60,546.00" stroke="#2ca02c" stroke-width="2.6" fill="none"/><path d="M726.60,178.50 L728.75,179.50 L731.00,184.00 L729.50,190.00 L728.75,194.50 L728.75,205.00 L728.75,250.50 L737.00,254.25 L731.00,256.50 L733.25,262.50 L731.00,267.00 L730.25,274.50 L729.50,280.00 L728.75,290.00 L728.00,302.00 L726.60,303.00 L726.60,313.00 L728.00,316.00 L729.00,330.00 L729.50,347.00 L728.50,370.00 L729.50,392.50 L734.00,407.50 L730.25,409.00 L732.50,413.50 L729.50,419.50 L729.50,430.00 L731.00,440.50 L734.00,452.50 L738.50,454.75 L732.50,457.75 L767.00,459.25 L779.00,463.00 L760.00,465.50 L744.50,468.00 L767.00,470.50 L794.00,472.75 L755.00,475.75 L776.00,478.00 L779.00,480.25 L765.50,481.75 L782.00,484.75 L797.00,487.75 L764.00,490.00 L771.50,493.00 L789.50,497.50 L806.00,500.50 L837.50,502.75 L800.00,504.25 L812.00,505.00 L764.00,507.25 L770.00,510.25 L767.00,511.75 L786.50,514.75 L762.50,517.00 L744.50,520.00 L734.00,526.00 L729.50,532.00 L728.00,539.50 L727.25,544.00 L726.60,547.00" stroke="#d62728" stroke-width="2.6" fill="none"/><path d="M726.60,178.50 L728.00,178.75 L788.00,179.50 L798.50,181.00 L852.50,184.00 L863.00,184.75 L854.00,187.75 L812.00,190.00 L752.00,192.25 L732.50,193.75 L731.00,196.00 L737.00,199.00 L744.50,205.00 L750.50,212.50 L758.00,223.00 L752.00,224.50 L741.50,226.50 L762.50,231.00 L764.00,235.50 L758.00,237.00 L762.50,240.00 L750.50,246.00 L765.50,249.75 L863.00,254.25 L788.00,259.50 L839.00,261.75 L846.50,264.75 L815.00,265.50 L794.00,267.75 L785.00,271.50 L776.00,274.50 L760.00,277.50 L753.50,278.75 L758.00,282.50 L747.50,290.00 L743.00,296.00 L738.50,300.50 L728.00,302.75 L726.60,303.50 L726.60,313.00 L728.00,314.00 L738.50,322.00 L752.00,327.00 L759.50,329.50 L797.00,335.50 L761.00,339.25 L845.00,344.50 L863.00,346.75 L863.00,349.75 L774.50,352.00 L836.00,355.75 L752.00,358.00 L836.00,365.50 L842.00,367.75 L815.00,370.20 L794.00,373.50 L796.00,375.50 L822.50,379.00 L782.00,385.00 L767.00,388.75 L785.00,394.00 L794.00,397.00 L852.50,400.00 L815.00,402.25 L863.00,406.00 L818.00,409.75 L860.00,412.00 L764.00,417.25 L783.00,420.25 L773.00,424.50 L776.00,429.25 L812.00,432.25 L828.50,434.50 L795.50,436.75 L800.00,439.75 L837.50,444.25 L803.00,445.75 L819.50,448.00 L792.50,452.50 L767.00,457.75 L860.00,460.00 L863.00,463.00 L827.00,466.00 L789.50,468.60 L863.00,471.00 L809.00,475.75 L863.00,478.00 L827.00,481.00 L863.00,485.50 L822.50,490.00 L863.00,494.50 L863.00,505.75 L803.00,507.25 L809.00,511.00 L834.50,514.75 L782.00,517.75 L759.50,521.50 L741.50,527.50 L732.50,533.50 L728.00,539.50 L727.25,544.00 L726.60,548.00" stroke="#000" stroke-width="1.45" stroke-dasharray="0.3 2.46" stroke-linecap="round" fill="none"/></g>
<g stroke-linecap="butt"><rect x="120.0" y="157.0" width="152.90" height="413.0" fill="none" stroke="#000" stroke-width="1.67" stroke-linejoin="miter"/><rect x="289.7" y="157.0" width="225.50" height="413.0" fill="none" stroke="#000" stroke-width="1.67" stroke-linejoin="miter"/><rect x="531.8" y="157.0" width="178.10" height="413.0" fill="none" stroke="#000" stroke-width="1.67" stroke-linejoin="miter"/><rect x="726.6" y="157.0" width="137.30" height="413.0" fill="none" stroke="#000" stroke-width="1.67" stroke-linejoin="miter"/></g>
<g font-family="'DejaVu Sans', 'Liberation Sans', sans-serif" font-size="20.83" fill="#000"><text x="120.00" y="591.6" text-anchor="middle">Γ</text><text x="194.40" y="591.6" text-anchor="middle">A</text><text x="272.90" y="591.6" text-anchor="middle">I<tspan font-size="14.6" dy="4.2">2</tspan></text><text x="289.70" y="591.6" text-anchor="middle">I</text><text x="316.60" y="591.6" text-anchor="middle">M<tspan font-size="14.6" dy="4.2">2</tspan></text><text x="408.10" y="591.6" text-anchor="middle">Γ</text><text x="515.20" y="591.6" text-anchor="middle">Y</text><text x="531.80" y="591.6" text-anchor="middle">L<tspan font-size="14.6" dy="4.2">2</tspan></text><text x="650.30" y="591.6" text-anchor="middle">Γ</text><text x="708.90" y="591.6" text-anchor="middle">V<tspan font-size="14.6" dy="4.2">2</tspan></text><text x="726.60" y="592.6" text-anchor="middle">0</text><text x="813.00" y="592.6" text-anchor="middle">2</text><text x="112.3" y="558.95" text-anchor="end">0</text><text x="112.3" y="482.95" text-anchor="end">5</text><text x="112.3" y="406.95" text-anchor="end">10</text><text x="112.3" y="330.95" text-anchor="end">15</text><text x="112.3" y="254.95" text-anchor="end">20</text><text x="112.3" y="178.95" text-anchor="end">25</text><text transform="translate(73.6,366.8) rotate(-90)" text-anchor="middle" textLength="173" lengthAdjust="spacing">Frequency (THz)</text></g>
</svg>
</body></html>
